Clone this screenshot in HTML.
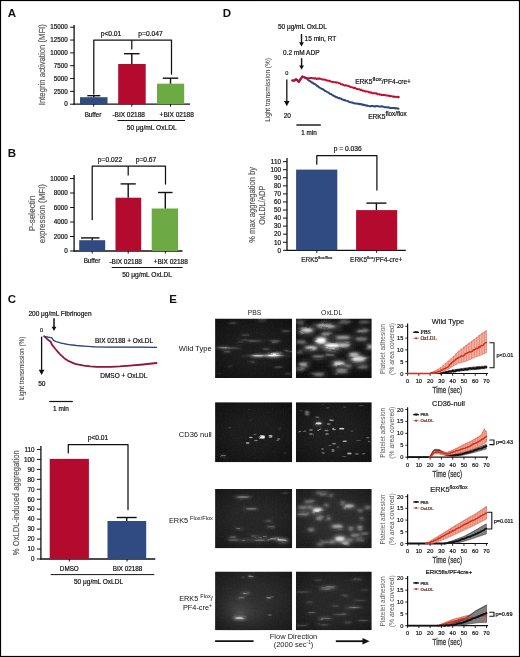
<!DOCTYPE html>
<html><head><meta charset="utf-8"><title>Figure</title>
<style>
html,body{margin:0;padding:0;background:#fff;}
body{width:520px;height:657px;overflow:hidden;font-family:"Liberation Sans", sans-serif;}
svg{display:block;font-family:"Liberation Sans", sans-serif;will-change:transform;opacity:0.999;}
text{stroke-width:0.2px;}
</style></head><body>
<svg width="520" height="657" viewBox="0 0 520 657">
<rect x="0" y="0" width="520" height="657" fill="#fff"/>
<g transform="translate(0 0.5)">
<text x="12.00" y="16.44" font-size="11.5" text-anchor="middle" fill="#111" font-weight="bold" >A</text>
<line x1="74.10" y1="24.50" x2="74.10" y2="104.20" stroke="#111" stroke-width="1.3" />
<line x1="73.60" y1="103.70" x2="190.00" y2="103.70" stroke="#111" stroke-width="1.3" />
<line x1="70.10" y1="103.70" x2="74.10" y2="103.70" stroke="#111" stroke-width="1" />
<text x="67.80" y="105.97" font-size="6.3" text-anchor="end" fill="#111" stroke="#111" >0</text>
<line x1="70.10" y1="90.87" x2="74.10" y2="90.87" stroke="#111" stroke-width="1" />
<text x="67.80" y="93.14" font-size="6.3" text-anchor="end" fill="#111" stroke="#111" >2500</text>
<line x1="70.10" y1="78.04" x2="74.10" y2="78.04" stroke="#111" stroke-width="1" />
<text x="67.80" y="80.31" font-size="6.3" text-anchor="end" fill="#111" stroke="#111" >5000</text>
<line x1="70.10" y1="65.21" x2="74.10" y2="65.21" stroke="#111" stroke-width="1" />
<text x="67.80" y="67.48" font-size="6.3" text-anchor="end" fill="#111" stroke="#111" >7500</text>
<line x1="70.10" y1="52.38" x2="74.10" y2="52.38" stroke="#111" stroke-width="1" />
<text x="67.80" y="54.65" font-size="6.3" text-anchor="end" fill="#111" stroke="#111" >10000</text>
<line x1="70.10" y1="39.55" x2="74.10" y2="39.55" stroke="#111" stroke-width="1" />
<text x="67.80" y="41.82" font-size="6.3" text-anchor="end" fill="#111" stroke="#111" >12500</text>
<line x1="70.10" y1="26.72" x2="74.10" y2="26.72" stroke="#111" stroke-width="1" />
<text x="67.80" y="28.99" font-size="6.3" text-anchor="end" fill="#111" stroke="#111" >15000</text>
<text x="0" y="3.24" font-size="9" text-anchor="middle" fill="#5c5c5c" stroke="#5c5c5c" textLength="81.00" lengthAdjust="spacingAndGlyphs" transform="translate(41.80 64.20) rotate(-90)">Integrin activation (MFI)</text>
<rect x="80.00" y="96.70" width="27.50" height="7.00" fill="#2f4b82"/>
<line x1="93.80" y1="95.20" x2="93.80" y2="96.70" stroke="#111" stroke-width="1.4" />
<line x1="87.30" y1="95.20" x2="100.30" y2="95.20" stroke="#111" stroke-width="1.4" />
<rect x="118.20" y="63.50" width="27.50" height="40.20" fill="#b40a2e"/>
<line x1="131.80" y1="53.20" x2="131.80" y2="63.50" stroke="#111" stroke-width="1.4" />
<line x1="124.05" y1="53.20" x2="139.55" y2="53.20" stroke="#111" stroke-width="1.4" />
<rect x="157.00" y="83.20" width="27.20" height="20.50" fill="#6cab43"/>
<line x1="170.50" y1="77.70" x2="170.50" y2="83.20" stroke="#111" stroke-width="1.4" />
<line x1="162.75" y1="77.70" x2="178.25" y2="77.70" stroke="#111" stroke-width="1.4" />
<line x1="93.70" y1="103.70" x2="93.70" y2="106.20" stroke="#111" stroke-width="1" />
<line x1="131.80" y1="103.70" x2="131.80" y2="106.20" stroke="#111" stroke-width="1" />
<line x1="170.50" y1="103.70" x2="170.50" y2="106.20" stroke="#111" stroke-width="1" />
<path d="M93.80,93.50 L93.80,39.50 L171.50,39.50 L171.50,73.70" stroke="#111" stroke-width="1.25" fill="none" stroke-linejoin="round" stroke-linecap="round" />
<line x1="131.80" y1="39.50" x2="131.80" y2="48.90" stroke="#111" stroke-width="1.25" />
<text x="111.00" y="35.61" font-size="6.7" text-anchor="middle" fill="#111" stroke="#111" >p&lt;0.01</text>
<text x="150.50" y="35.61" font-size="6.7" text-anchor="middle" fill="#111" stroke="#111" >p=0.047</text>
<text x="93.00" y="116.27" font-size="6.3" text-anchor="middle" fill="#111" stroke="#111" >Buffer</text>
<text x="128.70" y="116.34" font-size="6.5" text-anchor="middle" fill="#111" stroke="#111" >-BIX 02188</text>
<text x="176.70" y="116.34" font-size="6.5" text-anchor="middle" fill="#111" stroke="#111" >+BIX 02188</text>
<line x1="117.50" y1="120.00" x2="185.00" y2="120.00" stroke="#111" stroke-width="1" />
<text x="151.70" y="129.38" font-size="6.6" text-anchor="middle" fill="#111" stroke="#111" >50 μg/mL OxLDL</text>
</g>
<g transform="translate(0 0.5)">
<text x="12.00" y="156.14" font-size="11.5" text-anchor="middle" fill="#111" font-weight="bold" >B</text>
<line x1="74.10" y1="174.50" x2="74.10" y2="251.00" stroke="#111" stroke-width="1.3" />
<line x1="73.60" y1="250.50" x2="182.50" y2="250.50" stroke="#111" stroke-width="1.3" />
<line x1="70.10" y1="250.50" x2="74.10" y2="250.50" stroke="#111" stroke-width="1" />
<text x="67.80" y="252.77" font-size="6.3" text-anchor="end" fill="#111" stroke="#111" >0</text>
<line x1="70.10" y1="236.00" x2="74.10" y2="236.00" stroke="#111" stroke-width="1" />
<text x="67.80" y="238.27" font-size="6.3" text-anchor="end" fill="#111" stroke="#111" >2000</text>
<line x1="70.10" y1="221.50" x2="74.10" y2="221.50" stroke="#111" stroke-width="1" />
<text x="67.80" y="223.77" font-size="6.3" text-anchor="end" fill="#111" stroke="#111" >4000</text>
<line x1="70.10" y1="207.00" x2="74.10" y2="207.00" stroke="#111" stroke-width="1" />
<text x="67.80" y="209.27" font-size="6.3" text-anchor="end" fill="#111" stroke="#111" >6000</text>
<line x1="70.10" y1="192.50" x2="74.10" y2="192.50" stroke="#111" stroke-width="1" />
<text x="67.80" y="194.77" font-size="6.3" text-anchor="end" fill="#111" stroke="#111" >8000</text>
<line x1="70.10" y1="178.00" x2="74.10" y2="178.00" stroke="#111" stroke-width="1" />
<text x="67.80" y="180.27" font-size="6.3" text-anchor="end" fill="#111" stroke="#111" >10000</text>
<text x="0" y="3.24" font-size="9" text-anchor="middle" fill="#5c5c5c" stroke="#5c5c5c" textLength="35.50" lengthAdjust="spacingAndGlyphs" transform="translate(31.80 213.00) rotate(-90)">P-selectin</text>
<text x="0" y="3.24" font-size="9" text-anchor="middle" fill="#5c5c5c" stroke="#5c5c5c" textLength="59.00" lengthAdjust="spacingAndGlyphs" transform="translate(41.80 213.20) rotate(-90)">expression (MFI)</text>
<rect x="79.20" y="239.70" width="26.00" height="10.80" fill="#2f4b82"/>
<line x1="92.20" y1="237.40" x2="92.20" y2="239.70" stroke="#111" stroke-width="1.4" />
<line x1="81.00" y1="237.40" x2="99.50" y2="237.40" stroke="#111" stroke-width="1.4" />
<rect x="115.50" y="197.20" width="25.70" height="53.30" fill="#b40a2e"/>
<line x1="128.20" y1="183.40" x2="128.20" y2="197.20" stroke="#111" stroke-width="1.4" />
<line x1="120.60" y1="183.40" x2="135.80" y2="183.40" stroke="#111" stroke-width="1.4" />
<rect x="151.70" y="208.00" width="26.30" height="42.50" fill="#6cab43"/>
<line x1="165.30" y1="192.00" x2="165.30" y2="208.00" stroke="#111" stroke-width="1.4" />
<line x1="158.05" y1="192.00" x2="172.55" y2="192.00" stroke="#111" stroke-width="1.4" />
<line x1="92.20" y1="250.50" x2="92.20" y2="253.00" stroke="#111" stroke-width="1" />
<line x1="128.20" y1="250.50" x2="128.20" y2="253.00" stroke="#111" stroke-width="1" />
<line x1="165.30" y1="250.50" x2="165.30" y2="253.00" stroke="#111" stroke-width="1" />
<path d="M92.20,219.20 L92.20,165.70 L165.50,165.70 L165.50,183.50" stroke="#111" stroke-width="1.25" fill="none" stroke-linejoin="round" stroke-linecap="round" />
<line x1="128.20" y1="165.70" x2="128.20" y2="175.00" stroke="#111" stroke-width="1.25" />
<text x="110.00" y="161.91" font-size="6.7" text-anchor="middle" fill="#111" stroke="#111" >p=0.022</text>
<text x="146.00" y="161.91" font-size="6.7" text-anchor="middle" fill="#111" stroke="#111" >p=0.67</text>
<text x="92.00" y="262.97" font-size="6.3" text-anchor="middle" fill="#111" stroke="#111" >Buffer</text>
<text x="125.70" y="263.04" font-size="6.5" text-anchor="middle" fill="#111" stroke="#111" >-BIX 02188</text>
<text x="170.70" y="263.04" font-size="6.5" text-anchor="middle" fill="#111" stroke="#111" >+BIX 02188</text>
<line x1="111.70" y1="267.00" x2="182.50" y2="267.00" stroke="#111" stroke-width="1" />
<text x="147.00" y="276.08" font-size="6.6" text-anchor="middle" fill="#111" stroke="#111" >50 μg/mL OxLDL</text>
</g>
<text x="11.80" y="302.94" font-size="11.5" text-anchor="middle" fill="#111" font-weight="bold" >C</text>
<text x="60.00" y="315.54" font-size="6.5" text-anchor="middle" fill="#111" stroke="#111" >200 μg/mL Fibrinogen</text>
<line x1="54.00" y1="318.20" x2="54.00" y2="327.30" stroke="#111" stroke-width="1.5" />
<path d="M51.60,326.80 L56.40,326.80 L54.00,331.00 Z" fill="#111"/>
<text x="41.50" y="332.14" font-size="5.4" text-anchor="middle" fill="#111" stroke="#111" >0</text>
<line x1="41.60" y1="336.60" x2="41.60" y2="370.30" stroke="#111" stroke-width="1.3" />
<path d="M38.80,369.80 L44.40,369.80 L41.60,375.00 Z" fill="#111"/>
<text x="41.80" y="386.18" font-size="6.6" text-anchor="middle" fill="#111" stroke="#111" >50</text>
<text x="0" y="2.27" font-size="6.3" text-anchor="middle" fill="#2a2a2a" textLength="63.40" lengthAdjust="spacingAndGlyphs" transform="translate(21.30 368.30) rotate(-90)">Light transmission (%)</text>
<line x1="49.20" y1="401.50" x2="72.80" y2="401.50" stroke="#111" stroke-width="1.2" />
<text x="61.00" y="411.34" font-size="6.5" text-anchor="middle" fill="#111" stroke="#111" >1 min</text>
<path d="M44.20,336.30 L47.30,339.20 L50.70,341.80 L51.90,344.60 L55.00,348.50 L59.60,353.80 L64.20,358.20 L68.80,361.20 L75.00,363.80 L83.80,365.60 L90.00,366.40 L97.30,366.90 L110.80,366.80 L120.00,366.40 L129.60,365.70 L143.00,364.50 L156.50,363.00" stroke="#c2102f" stroke-width="1.8" fill="none" stroke-linejoin="round" stroke-linecap="round" />
<path d="M44.20,336.30 L47.30,339.20 L50.70,341.80 L51.90,344.60 L55.00,348.50 L59.60,353.80 L64.20,358.20 L68.80,361.20 L75.00,363.80 L83.80,365.60 L90.00,366.40 L97.30,366.90 L110.80,366.80 L120.00,366.40 L129.60,365.70 L143.00,364.50 L156.50,363.00" stroke="#3a2a55" stroke-width="0.6" fill="none" stroke-linejoin="round" stroke-linecap="round" />
<path d="M44.20,336.30 L48.10,337.20 L51.90,337.80 L53.50,340.30 L55.80,341.50 L61.20,343.10 L68.80,344.60 L76.50,345.50 L84.20,346.20 L95.00,346.80 L110.00,347.10 L124.20,347.10 L140.00,347.20 L156.50,347.40" stroke="#3a5a95" stroke-width="1.3" fill="none" stroke-linejoin="round" stroke-linecap="round" />
<path d="M44.20,336.30 L48.10,337.20 L51.90,337.80 L53.50,340.30 L55.80,341.50 L61.20,343.10 L68.80,344.60 L76.50,345.50 L84.20,346.20 L95.00,346.80 L110.00,347.10 L124.20,347.10 L140.00,347.20 L156.50,347.40" stroke="#1c2d55" stroke-width="0.5" fill="none" stroke-linejoin="round" stroke-linecap="round" />
<text x="124.00" y="343.14" font-size="6.5" text-anchor="middle" fill="#111" stroke="#111" >BIX 02188 + OxLDL</text>
<text x="123.80" y="377.94" font-size="6.5" text-anchor="middle" fill="#111" stroke="#111" >DMSO + OxLDL</text>
<line x1="40.90" y1="446.00" x2="40.90" y2="559.50" stroke="#111" stroke-width="1.3" />
<line x1="40.40" y1="559.00" x2="155.30" y2="559.00" stroke="#111" stroke-width="1.3" />
<line x1="36.90" y1="559.00" x2="40.90" y2="559.00" stroke="#111" stroke-width="1" />
<text x="34.60" y="561.27" font-size="6.3" text-anchor="end" fill="#111" stroke="#111" >0</text>
<line x1="36.90" y1="549.04" x2="40.90" y2="549.04" stroke="#111" stroke-width="1" />
<text x="34.60" y="551.31" font-size="6.3" text-anchor="end" fill="#111" stroke="#111" >10</text>
<line x1="36.90" y1="539.08" x2="40.90" y2="539.08" stroke="#111" stroke-width="1" />
<text x="34.60" y="541.35" font-size="6.3" text-anchor="end" fill="#111" stroke="#111" >20</text>
<line x1="36.90" y1="529.12" x2="40.90" y2="529.12" stroke="#111" stroke-width="1" />
<text x="34.60" y="531.39" font-size="6.3" text-anchor="end" fill="#111" stroke="#111" >30</text>
<line x1="36.90" y1="519.16" x2="40.90" y2="519.16" stroke="#111" stroke-width="1" />
<text x="34.60" y="521.43" font-size="6.3" text-anchor="end" fill="#111" stroke="#111" >40</text>
<line x1="36.90" y1="509.20" x2="40.90" y2="509.20" stroke="#111" stroke-width="1" />
<text x="34.60" y="511.47" font-size="6.3" text-anchor="end" fill="#111" stroke="#111" >50</text>
<line x1="36.90" y1="499.24" x2="40.90" y2="499.24" stroke="#111" stroke-width="1" />
<text x="34.60" y="501.51" font-size="6.3" text-anchor="end" fill="#111" stroke="#111" >60</text>
<line x1="36.90" y1="489.28" x2="40.90" y2="489.28" stroke="#111" stroke-width="1" />
<text x="34.60" y="491.55" font-size="6.3" text-anchor="end" fill="#111" stroke="#111" >70</text>
<line x1="36.90" y1="479.32" x2="40.90" y2="479.32" stroke="#111" stroke-width="1" />
<text x="34.60" y="481.59" font-size="6.3" text-anchor="end" fill="#111" stroke="#111" >80</text>
<line x1="36.90" y1="469.36" x2="40.90" y2="469.36" stroke="#111" stroke-width="1" />
<text x="34.60" y="471.63" font-size="6.3" text-anchor="end" fill="#111" stroke="#111" >90</text>
<line x1="36.90" y1="459.40" x2="40.90" y2="459.40" stroke="#111" stroke-width="1" />
<text x="34.60" y="461.67" font-size="6.3" text-anchor="end" fill="#111" stroke="#111" >100</text>
<line x1="36.90" y1="449.44" x2="40.90" y2="449.44" stroke="#111" stroke-width="1" />
<text x="34.60" y="451.71" font-size="6.3" text-anchor="end" fill="#111" stroke="#111" >110</text>
<text x="0" y="3.24" font-size="9" text-anchor="middle" fill="#5c5c5c" stroke="#5c5c5c" textLength="105.00" lengthAdjust="spacingAndGlyphs" transform="translate(16.20 502.80) rotate(-90)">% OxLDL-induced aggregation</text>
<rect x="49.70" y="458.90" width="39.20" height="100.10" fill="#b40a2e"/>
<rect x="107.50" y="521.00" width="38.70" height="38.00" fill="#2f4b82"/>
<line x1="126.70" y1="517.50" x2="126.70" y2="521.00" stroke="#111" stroke-width="1.4" />
<line x1="116.70" y1="517.50" x2="136.70" y2="517.50" stroke="#111" stroke-width="1.4" />
<line x1="69.30" y1="559.00" x2="69.30" y2="561.50" stroke="#111" stroke-width="1" />
<line x1="127.00" y1="559.00" x2="127.00" y2="561.50" stroke="#111" stroke-width="1" />
<path d="M68.30,452.80 L68.30,444.50 L128.00,444.50 L128.00,509.60" stroke="#111" stroke-width="1.25" fill="none" stroke-linejoin="round" stroke-linecap="round" />
<text x="98.00" y="440.11" font-size="6.7" text-anchor="middle" fill="#111" stroke="#111" >p&lt;0.01</text>
<text x="69.30" y="570.97" font-size="6.3" text-anchor="middle" fill="#111" stroke="#111" >DMSO</text>
<text x="127.50" y="570.97" font-size="6.3" text-anchor="middle" fill="#111" stroke="#111" >BIX 02188</text>
<line x1="50.70" y1="574.60" x2="154.30" y2="574.60" stroke="#111" stroke-width="1" />
<text x="98.50" y="584.04" font-size="6.5" text-anchor="middle" fill="#111" stroke="#111" >50 μg/mL OxLDL</text>
<text x="227.00" y="16.94" font-size="11.5" text-anchor="middle" fill="#111" font-weight="bold" >D</text>
<text x="277.90" y="29.04" font-size="6.5" text-anchor="start" fill="#111" stroke="#111" >50 μg/mL OxLDL</text>
<line x1="301.50" y1="34.00" x2="301.50" y2="42.80" stroke="#111" stroke-width="1.4" />
<path d="M299.10,42.30 L303.90,42.30 L301.50,46.50 Z" fill="#111"/>
<text x="304.60" y="41.14" font-size="6.5" text-anchor="start" fill="#111" stroke="#111" >15 min, RT</text>
<text x="283.00" y="54.74" font-size="6.5" text-anchor="start" fill="#111" stroke="#111" >0.2 mM ADP</text>
<line x1="301.60" y1="58.20" x2="301.60" y2="66.00" stroke="#111" stroke-width="1.4" />
<path d="M299.20,65.50 L304.00,65.50 L301.60,69.70 Z" fill="#111"/>
<text x="286.80" y="75.32" font-size="5.6" text-anchor="middle" fill="#111" stroke="#111" >0</text>
<line x1="286.80" y1="79.50" x2="286.80" y2="101.40" stroke="#111" stroke-width="1.3" />
<path d="M284.00,100.90 L289.60,100.90 L286.80,106.30 Z" fill="#111"/>
<text x="287.30" y="118.34" font-size="6.5" text-anchor="middle" fill="#111" stroke="#111" >20</text>
<text x="0" y="2.27" font-size="6.3" text-anchor="middle" fill="#2a2a2a" textLength="63.70" lengthAdjust="spacingAndGlyphs" transform="translate(268.20 90.00) rotate(-90)">Light transmission (%)</text>
<line x1="296.40" y1="125.00" x2="320.80" y2="125.00" stroke="#111" stroke-width="1.4" />
<text x="309.00" y="134.67" font-size="6.3" text-anchor="middle" fill="#111" stroke="#111" >1 min</text>
<path d="M292.30,80.48 L293.40,80.46 L294.50,80.91 L295.30,79.75 L296.10,79.33 L297.40,80.51 L298.80,81.99 L299.65,80.76 L300.50,78.88 L301.40,77.85 L302.30,76.30 L303.40,76.81 L304.50,77.55 L305.45,78.33 L306.40,78.34 L307.33,79.04 L308.27,79.96 L309.20,80.81 L310.02,81.11 L310.84,81.53 L311.66,82.49 L312.48,82.40 L313.30,83.52 L314.12,83.67 L314.94,84.12 L315.76,84.66 L316.58,85.35 L317.40,86.25 L318.22,86.36 L319.04,87.20 L319.86,87.79 L320.68,88.16 L321.50,88.83 L322.31,88.95 L323.12,89.41 L323.93,89.97 L324.74,90.76 L325.55,91.04 L326.36,91.42 L327.17,92.07 L327.98,92.43 L328.79,92.78 L329.61,93.59 L330.42,93.98 L331.23,94.12 L332.04,94.80 L332.85,95.23 L333.66,95.93 L334.47,96.29 L335.28,96.44 L336.09,97.38 L336.90,97.23 L337.71,97.72 L338.52,98.23 L339.33,98.08 L340.14,98.59 L340.95,98.55 L341.76,99.26 L342.57,99.60 L343.38,99.74 L344.19,100.23 L345.01,100.11 L345.82,100.65 L346.63,100.85 L347.44,101.11 L348.25,101.30 L349.06,101.84 L349.87,102.19 L350.68,102.13 L351.49,102.54 L352.30,102.39 L353.11,103.00 L353.92,103.13 L354.73,103.53 L355.54,103.58 L356.35,103.37 L357.16,103.60 L357.97,103.96 L358.78,103.67 L359.59,104.14 L360.41,104.10 L361.22,104.23 L362.03,104.35 L362.84,105.01 L363.65,104.72 L364.46,104.97 L365.27,105.23 L366.08,105.73 L366.89,105.34 L367.70,105.76 L368.51,105.88 L369.31,106.16 L370.12,106.17 L370.92,106.24 L371.73,105.88 L372.53,106.02 L373.34,106.03 L374.14,106.45 L374.95,106.55 L375.75,106.03 L376.56,106.09 L377.36,106.18 L378.17,106.23 L378.97,106.45 L379.78,106.57 L380.58,106.39 L381.39,106.26 L382.19,106.60 L383.00,106.61 L383.82,106.86 L384.63,107.24 L385.45,107.16 L386.26,107.15 L387.08,107.33 L387.89,107.49 L388.71,107.16 L389.53,107.86 L390.34,107.89 L391.16,108.07 L391.97,108.12 L392.79,107.95 L393.61,108.07 L394.42,107.97 L395.24,108.45 L396.05,108.16 L396.87,108.28 L397.68,108.49 L398.50,108.80" stroke="#2c4782" stroke-width="2.0" fill="none" stroke-linejoin="round" stroke-linecap="round" />
<path d="M292.30,80.56 L293.40,80.49 L294.50,80.09 L295.30,79.60 L296.10,79.26 L297.40,79.92 L298.80,81.90 L299.65,80.42 L300.50,79.76 L301.40,78.28 L302.30,76.65 L303.40,76.98 L304.50,77.29 L305.45,77.65 L306.40,77.84 L307.33,78.34 L308.27,78.45 L309.20,78.08 L310.02,78.15 L310.84,77.93 L311.66,78.00 L312.48,78.23 L313.30,78.24 L314.12,78.69 L314.94,78.28 L315.76,78.25 L316.58,78.96 L317.40,78.72 L318.22,78.51 L319.04,78.85 L319.86,78.55 L320.68,78.96 L321.50,79.33 L322.31,79.45 L323.12,79.53 L323.93,79.42 L324.74,79.69 L325.55,79.74 L326.36,80.36 L327.17,80.39 L327.98,80.75 L328.79,80.63 L329.61,80.75 L330.42,81.36 L331.23,81.68 L332.04,81.78 L332.85,81.94 L333.66,82.14 L334.47,82.28 L335.28,82.12 L336.09,82.52 L336.90,82.60 L337.71,82.61 L338.52,82.85 L339.33,83.27 L340.14,83.50 L340.95,84.05 L341.76,84.47 L342.57,84.36 L343.38,84.94 L344.19,85.22 L345.01,85.44 L345.82,85.27 L346.63,85.41 L347.44,85.66 L348.25,85.88 L349.06,86.12 L349.87,86.66 L350.68,87.10 L351.49,87.30 L352.30,87.29 L353.11,87.65 L353.92,87.99 L354.73,87.74 L355.54,88.38 L356.35,88.80 L357.16,88.95 L357.97,89.17 L358.78,89.22 L359.59,89.25 L360.41,89.92 L361.22,89.85 L362.03,90.42 L362.84,90.78 L363.65,90.62 L364.46,90.86 L365.27,91.49 L366.08,91.57 L366.89,91.43 L367.70,91.64 L368.51,91.82 L369.31,92.51 L370.12,92.60 L370.92,92.30 L371.73,92.94 L372.53,93.22 L373.34,93.15 L374.14,93.10 L374.95,93.40 L375.75,93.27 L376.56,93.35 L377.36,94.19 L378.17,94.13 L378.97,94.20 L379.78,94.65 L380.58,94.46 L381.39,94.93 L382.19,95.07 L383.00,94.80 L383.82,94.94 L384.63,95.09 L385.45,95.17 L386.26,95.52 L387.08,95.41 L387.89,95.64 L388.71,95.55 L389.53,96.21 L390.34,95.94 L391.16,96.13 L391.97,96.33 L392.79,96.67 L393.61,96.45 L394.42,96.91 L395.24,96.74 L396.05,96.87 L396.87,96.98 L397.68,96.75 L398.50,97.20" stroke="#c0102f" stroke-width="2.0" fill="none" stroke-linejoin="round" stroke-linecap="round" />
<circle cx="398.5" cy="97.2" r="1.1" fill="#c0102f"/>
<text x="355.2" y="84.3" font-size="6.6" fill="#111" stroke="#111">ERK5<tspan dy="-3" font-size="6">flox</tspan><tspan dy="3" font-size="6.6">/PF4-cre+</tspan></text>
<text x="368.2" y="119.2" font-size="6.6" fill="#111" stroke="#111">ERK5<tspan dy="-3.1" font-size="6.3">flox/flox</tspan></text>
<g transform="translate(0 0.6)">
<line x1="287.00" y1="157.30" x2="287.00" y2="250.20" stroke="#111" stroke-width="1.3" />
<line x1="286.50" y1="249.70" x2="405.80" y2="249.70" stroke="#111" stroke-width="1.3" />
<line x1="283.00" y1="249.70" x2="287.00" y2="249.70" stroke="#111" stroke-width="1" />
<text x="280.90" y="251.97" font-size="6.3" text-anchor="end" fill="#111" stroke="#111" >0</text>
<line x1="283.00" y1="241.64" x2="287.00" y2="241.64" stroke="#111" stroke-width="1" />
<text x="280.90" y="243.91" font-size="6.3" text-anchor="end" fill="#111" stroke="#111" >10</text>
<line x1="283.00" y1="233.58" x2="287.00" y2="233.58" stroke="#111" stroke-width="1" />
<text x="280.90" y="235.85" font-size="6.3" text-anchor="end" fill="#111" stroke="#111" >20</text>
<line x1="283.00" y1="225.52" x2="287.00" y2="225.52" stroke="#111" stroke-width="1" />
<text x="280.90" y="227.79" font-size="6.3" text-anchor="end" fill="#111" stroke="#111" >30</text>
<line x1="283.00" y1="217.46" x2="287.00" y2="217.46" stroke="#111" stroke-width="1" />
<text x="280.90" y="219.73" font-size="6.3" text-anchor="end" fill="#111" stroke="#111" >40</text>
<line x1="283.00" y1="209.40" x2="287.00" y2="209.40" stroke="#111" stroke-width="1" />
<text x="280.90" y="211.67" font-size="6.3" text-anchor="end" fill="#111" stroke="#111" >50</text>
<line x1="283.00" y1="201.34" x2="287.00" y2="201.34" stroke="#111" stroke-width="1" />
<text x="280.90" y="203.61" font-size="6.3" text-anchor="end" fill="#111" stroke="#111" >60</text>
<line x1="283.00" y1="193.28" x2="287.00" y2="193.28" stroke="#111" stroke-width="1" />
<text x="280.90" y="195.55" font-size="6.3" text-anchor="end" fill="#111" stroke="#111" >70</text>
<line x1="283.00" y1="185.22" x2="287.00" y2="185.22" stroke="#111" stroke-width="1" />
<text x="280.90" y="187.49" font-size="6.3" text-anchor="end" fill="#111" stroke="#111" >80</text>
<line x1="283.00" y1="177.16" x2="287.00" y2="177.16" stroke="#111" stroke-width="1" />
<text x="280.90" y="179.43" font-size="6.3" text-anchor="end" fill="#111" stroke="#111" >90</text>
<line x1="283.00" y1="169.10" x2="287.00" y2="169.10" stroke="#111" stroke-width="1" />
<text x="280.90" y="171.37" font-size="6.3" text-anchor="end" fill="#111" stroke="#111" >100</text>
<line x1="283.00" y1="161.04" x2="287.00" y2="161.04" stroke="#111" stroke-width="1" />
<text x="280.90" y="163.31" font-size="6.3" text-anchor="end" fill="#111" stroke="#111" >110</text>
<text x="0" y="3.24" font-size="9" text-anchor="middle" fill="#5c5c5c" stroke="#5c5c5c" textLength="76.00" lengthAdjust="spacingAndGlyphs" transform="translate(251.90 204.20) rotate(-90)">% max aggregation by</text>
<text x="0" y="3.24" font-size="9" text-anchor="middle" fill="#5c5c5c" stroke="#5c5c5c" textLength="39.00" lengthAdjust="spacingAndGlyphs" transform="translate(261.50 204.60) rotate(-90)">OxLDL/ADP</text>
<rect x="296.10" y="169.00" width="41.20" height="80.70" fill="#2f4b82"/>
<rect x="356.10" y="209.50" width="41.10" height="40.20" fill="#b40a2e"/>
<line x1="376.40" y1="202.50" x2="376.40" y2="209.50" stroke="#111" stroke-width="1.4" />
<line x1="366.40" y1="202.50" x2="386.40" y2="202.50" stroke="#111" stroke-width="1.4" />
<line x1="316.80" y1="249.70" x2="316.80" y2="252.20" stroke="#111" stroke-width="1" />
<line x1="376.70" y1="249.70" x2="376.70" y2="252.20" stroke="#111" stroke-width="1" />
<path d="M316.80,163.60 L316.80,155.00 L376.90,155.00 L376.90,189.50" stroke="#111" stroke-width="1.25" fill="none" stroke-linejoin="round" stroke-linecap="round" />
<text x="347.70" y="150.71" font-size="6.7" text-anchor="middle" fill="#111" stroke="#111" >p = 0.036</text>
<text x="316.8" y="261.2" font-size="6.5" text-anchor="middle" fill="#222" stroke="#222">ERK5<tspan dy="-2.4" font-size="4.2">flox/flox</tspan></text>
<text x="376.2" y="261.2" font-size="6.5" text-anchor="middle" fill="#222" stroke="#222">ERK5<tspan dy="-2.4" font-size="4.2">flox</tspan><tspan dy="2.4" font-size="6.5">/PF4-cre+</tspan></text>
</g>
<text x="173.00" y="302.94" font-size="11.5" text-anchor="middle" fill="#111" font-weight="bold" >E</text>
<text x="254.60" y="315.15" font-size="6.8" text-anchor="middle" fill="#222" >PBS</text>
<text x="331.70" y="315.15" font-size="6.8" text-anchor="middle" fill="#222" >OxLDL</text>
<text x="178.80" y="350.70" font-size="7.5" text-anchor="start" fill="#111" >Wild Type</text>
<text x="178.80" y="436.70" font-size="7.5" text-anchor="start" fill="#111" >CD36 null</text>
<text x="169" y="523.4" font-size="7.3" fill="#111">ERK5 <tspan dy="-3" font-size="5.6">Flox/Flox</tspan></text>
<text x="179.2" y="600.8" font-size="7.3" fill="#111">ERK5 <tspan dy="-3" font-size="5.6">Flox</tspan><tspan dy="3" font-size="7.3">/</tspan></text>
<text x="183" y="609.6" font-size="7.3" fill="#111">PF4-cre<tspan dy="-2.5" font-size="5">+</tspan></text>
<defs><filter id="b1" x="-60%" y="-100%" width="220%" height="300%"><feGaussianBlur stdDeviation="0.7"/></filter><filter id="b2" x="-60%" y="-100%" width="220%" height="300%"><feGaussianBlur stdDeviation="1.1"/></filter><filter id="b3" x="-60%" y="-100%" width="220%" height="300%"><feGaussianBlur stdDeviation="2.2"/></filter><filter id="nz" x="0" y="0" width="100%" height="100%"><feTurbulence type="fractalNoise" baseFrequency="0.9 0.5" numOctaves="2" seed="3" result="t"/><feColorMatrix type="matrix" values="0 0 0 0 1  0 0 0 0 1  0 0 0 0 1  0.5 0.5 0 0 -0.35"/></filter><filter id="rough" x="0" y="0" width="100%" height="100%"><feTurbulence type="fractalNoise" baseFrequency="0.06 0.18" numOctaves="1" seed="5" result="t"/><feDisplacementMap in="SourceGraphic" in2="t" scale="3.5" xChannelSelector="R" yChannelSelector="G"/><feGaussianBlur stdDeviation="0.4"/></filter><radialGradient id="vig" cx="0.5" cy="0.5" r="0.75"><stop offset="0.35" stop-color="#000" stop-opacity="0"/><stop offset="1" stop-color="#000" stop-opacity="0.5"/></radialGradient><radialGradient id="glow"><stop offset="0" stop-color="#474747"/><stop offset="0.5" stop-color="#383838" stop-opacity="0.5"/><stop offset="1" stop-color="#2a2a2a" stop-opacity="0"/></radialGradient></defs>
<clipPath id="c1"><rect x="215.1" y="318.6" width="77.10" height="59.40"/></clipPath>
<g clip-path="url(#c1)">
<rect x="215.10" y="318.60" width="77.10" height="59.40" fill="#1a1a1a"/>
<g filter="url(#rough)"><rect x="205.1" y="308.6" width="97.10" height="79.40" fill="none"/>
<ellipse cx="268.0" cy="355.6" rx="25.5" ry="1.1" fill="#fff" opacity="0.08" filter="url(#b3)"/>
<ellipse cx="268.0" cy="355.6" rx="28.9" ry="1.3" fill="#fff" opacity="0.12" filter="url(#b2)"/>
<ellipse cx="268.0" cy="355.6" rx="18.7" ry="0.6" fill="#fff" opacity="0.27" filter="url(#b1)"/>
<ellipse cx="274.0" cy="355.3" rx="8.2" ry="1.8" fill="#fff" opacity="0.28" filter="url(#b3)"/>
<ellipse cx="274.0" cy="355.3" rx="9.3" ry="2.0" fill="#fff" opacity="0.40" filter="url(#b2)"/>
<ellipse cx="274.0" cy="355.3" rx="6.1" ry="0.9" fill="#fff" opacity="0.90" filter="url(#b1)"/>
<ellipse cx="258.0" cy="355.8" rx="7.5" ry="1.4" fill="#fff" opacity="0.17" filter="url(#b3)"/>
<ellipse cx="258.0" cy="355.8" rx="8.5" ry="1.6" fill="#fff" opacity="0.24" filter="url(#b2)"/>
<ellipse cx="258.0" cy="355.8" rx="5.5" ry="0.8" fill="#fff" opacity="0.54" filter="url(#b1)"/>
<ellipse cx="252.0" cy="341.0" rx="13.5" ry="0.8" fill="#fff" opacity="0.08" filter="url(#b3)"/>
<ellipse cx="252.0" cy="341.0" rx="15.3" ry="0.9" fill="#fff" opacity="0.12" filter="url(#b2)"/>
<ellipse cx="252.0" cy="341.0" rx="9.9" ry="0.5" fill="#fff" opacity="0.27" filter="url(#b1)"/>
<ellipse cx="230.0" cy="348.0" rx="12.0" ry="0.8" fill="#fff" opacity="0.08" filter="url(#b3)"/>
<ellipse cx="230.0" cy="348.0" rx="13.6" ry="0.9" fill="#fff" opacity="0.12" filter="url(#b2)"/>
<ellipse cx="230.0" cy="348.0" rx="8.8" ry="0.5" fill="#fff" opacity="0.27" filter="url(#b1)"/>
<ellipse cx="223.0" cy="347.6" rx="6.8" ry="1.1" fill="#fff" opacity="0.11" filter="url(#b3)"/>
<ellipse cx="223.0" cy="347.6" rx="7.6" ry="1.3" fill="#fff" opacity="0.16" filter="url(#b2)"/>
<ellipse cx="223.0" cy="347.6" rx="5.0" ry="0.6" fill="#fff" opacity="0.36" filter="url(#b1)"/>
<ellipse cx="226.0" cy="351.8" rx="4.5" ry="1.0" fill="#fff" opacity="0.08" filter="url(#b3)"/>
<ellipse cx="226.0" cy="351.8" rx="5.1" ry="1.1" fill="#fff" opacity="0.12" filter="url(#b2)"/>
<ellipse cx="226.0" cy="351.8" rx="3.3" ry="0.5" fill="#fff" opacity="0.27" filter="url(#b1)"/>
<ellipse cx="275.4" cy="341.0" rx="6.0" ry="1.0" fill="#fff" opacity="0.10" filter="url(#b3)"/>
<ellipse cx="275.4" cy="341.0" rx="6.8" ry="1.1" fill="#fff" opacity="0.14" filter="url(#b2)"/>
<ellipse cx="275.4" cy="341.0" rx="4.4" ry="0.5" fill="#fff" opacity="0.32" filter="url(#b1)"/>
<ellipse cx="286.8" cy="331.0" rx="5.2" ry="1.0" fill="#fff" opacity="0.10" filter="url(#b3)"/>
<ellipse cx="286.8" cy="331.0" rx="6.0" ry="1.1" fill="#fff" opacity="0.14" filter="url(#b2)"/>
<ellipse cx="286.8" cy="331.0" rx="3.9" ry="0.5" fill="#fff" opacity="0.32" filter="url(#b1)"/>
<ellipse cx="288.4" cy="350.8" rx="5.2" ry="1.0" fill="#fff" opacity="0.11" filter="url(#b3)"/>
<ellipse cx="288.4" cy="350.8" rx="6.0" ry="1.1" fill="#fff" opacity="0.16" filter="url(#b2)"/>
<ellipse cx="288.4" cy="350.8" rx="3.9" ry="0.5" fill="#fff" opacity="0.36" filter="url(#b1)"/>
<ellipse cx="233.0" cy="323.0" rx="5.2" ry="0.8" fill="#fff" opacity="0.08" filter="url(#b3)"/>
<ellipse cx="233.0" cy="323.0" rx="6.0" ry="0.9" fill="#fff" opacity="0.12" filter="url(#b2)"/>
<ellipse cx="233.0" cy="323.0" rx="3.9" ry="0.5" fill="#fff" opacity="0.27" filter="url(#b1)"/>
<ellipse cx="262.0" cy="320.8" rx="5.2" ry="0.8" fill="#fff" opacity="0.08" filter="url(#b3)"/>
<ellipse cx="262.0" cy="320.8" rx="6.0" ry="0.9" fill="#fff" opacity="0.11" filter="url(#b2)"/>
<ellipse cx="262.0" cy="320.8" rx="3.9" ry="0.5" fill="#fff" opacity="0.25" filter="url(#b1)"/>
<ellipse cx="278.6" cy="367.0" rx="5.2" ry="0.8" fill="#fff" opacity="0.08" filter="url(#b3)"/>
<ellipse cx="278.6" cy="367.0" rx="6.0" ry="0.9" fill="#fff" opacity="0.12" filter="url(#b2)"/>
<ellipse cx="278.6" cy="367.0" rx="3.9" ry="0.5" fill="#fff" opacity="0.27" filter="url(#b1)"/>
<ellipse cx="288.4" cy="373.7" rx="4.5" ry="0.8" fill="#fff" opacity="0.08" filter="url(#b3)"/>
<ellipse cx="288.4" cy="373.7" rx="5.1" ry="0.9" fill="#fff" opacity="0.11" filter="url(#b2)"/>
<ellipse cx="288.4" cy="373.7" rx="3.3" ry="0.5" fill="#fff" opacity="0.25" filter="url(#b1)"/>
<ellipse cx="218.0" cy="373.7" rx="3.8" ry="0.8" fill="#fff" opacity="0.08" filter="url(#b3)"/>
<ellipse cx="218.0" cy="373.7" rx="2.8" ry="0.5" fill="#fff" opacity="0.25" filter="url(#b1)"/>
<ellipse cx="245.0" cy="335.0" rx="4.5" ry="0.8" fill="#fff" opacity="0.06" filter="url(#b3)"/>
<ellipse cx="245.0" cy="335.0" rx="5.1" ry="0.9" fill="#fff" opacity="0.08" filter="url(#b2)"/>
<ellipse cx="245.0" cy="335.0" rx="3.3" ry="0.5" fill="#fff" opacity="0.18" filter="url(#b1)"/>
<ellipse cx="252.0" cy="362.0" rx="4.5" ry="0.8" fill="#fff" opacity="0.06" filter="url(#b3)"/>
<ellipse cx="252.0" cy="362.0" rx="5.1" ry="0.9" fill="#fff" opacity="0.08" filter="url(#b2)"/>
<ellipse cx="252.0" cy="362.0" rx="3.3" ry="0.5" fill="#fff" opacity="0.18" filter="url(#b1)"/>
<ellipse cx="230.0" cy="366.0" rx="3.8" ry="0.8" fill="#fff" opacity="0.06" filter="url(#b3)"/>
<ellipse cx="230.0" cy="366.0" rx="2.8" ry="0.5" fill="#fff" opacity="0.18" filter="url(#b1)"/>
<ellipse cx="266.0" cy="349.0" rx="4.5" ry="0.8" fill="#fff" opacity="0.07" filter="url(#b3)"/>
<ellipse cx="266.0" cy="349.0" rx="5.1" ry="0.9" fill="#fff" opacity="0.10" filter="url(#b2)"/>
<ellipse cx="266.0" cy="349.0" rx="3.3" ry="0.5" fill="#fff" opacity="0.23" filter="url(#b1)"/>
<ellipse cx="240.0" cy="343.0" rx="3.8" ry="0.8" fill="#fff" opacity="0.06" filter="url(#b3)"/>
<ellipse cx="240.0" cy="343.0" rx="2.8" ry="0.5" fill="#fff" opacity="0.18" filter="url(#b1)"/>
</g>
<rect x="215.1" y="318.6" width="77.10" height="59.40" fill="url(#vig)"/>
<rect x="215.1" y="318.6" width="77.10" height="59.40" fill="#fff" opacity="0.1" filter="url(#nz)"/>
</g>
<clipPath id="c2"><rect x="295.9" y="318.6" width="75.80" height="59.40"/></clipPath>
<g clip-path="url(#c2)">
<rect x="295.90" y="318.60" width="75.80" height="59.40" fill="#111"/>
<g filter="url(#rough)"><rect x="285.9" y="308.6" width="95.80" height="79.40" fill="none"/>
<ellipse cx="305.5" cy="330.6" rx="8.5" ry="4.4" fill="#fff" opacity="0.50" filter="url(#b3)"/>
<ellipse cx="305.5" cy="330.6" rx="5.3" ry="2.7" fill="#fff" opacity="1.00" filter="url(#b2)"/>
<ellipse cx="326.3" cy="326.0" rx="15.1" ry="3.5" fill="#fff" opacity="0.28" filter="url(#b3)"/>
<ellipse cx="326.3" cy="326.0" rx="9.4" ry="2.1" fill="#fff" opacity="0.66" filter="url(#b2)"/>
<ellipse cx="321.0" cy="340.6" rx="7.6" ry="4.6" fill="#fff" opacity="0.45" filter="url(#b3)"/>
<ellipse cx="321.0" cy="340.6" rx="4.7" ry="2.8" fill="#fff" opacity="1.00" filter="url(#b2)"/>
<ellipse cx="332.5" cy="346.0" rx="11.3" ry="4.2" fill="#fff" opacity="0.48" filter="url(#b3)"/>
<ellipse cx="332.5" cy="346.0" rx="7.1" ry="2.5" fill="#fff" opacity="1.00" filter="url(#b2)"/>
<ellipse cx="344.8" cy="345.2" rx="8.5" ry="3.1" fill="#fff" opacity="0.25" filter="url(#b3)"/>
<ellipse cx="344.8" cy="345.2" rx="5.3" ry="1.9" fill="#fff" opacity="0.60" filter="url(#b2)"/>
<ellipse cx="343.0" cy="337.5" rx="11.3" ry="2.7" fill="#fff" opacity="0.23" filter="url(#b3)"/>
<ellipse cx="343.0" cy="337.5" rx="7.1" ry="1.6" fill="#fff" opacity="0.54" filter="url(#b2)"/>
<ellipse cx="311.0" cy="348.0" rx="9.4" ry="3.0" fill="#fff" opacity="0.33" filter="url(#b3)"/>
<ellipse cx="311.0" cy="348.0" rx="5.9" ry="1.8" fill="#fff" opacity="0.78" filter="url(#b2)"/>
<ellipse cx="358.6" cy="359.0" rx="10.4" ry="4.1" fill="#fff" opacity="0.40" filter="url(#b3)"/>
<ellipse cx="358.6" cy="359.0" rx="6.5" ry="2.4" fill="#fff" opacity="0.96" filter="url(#b2)"/>
<ellipse cx="354.0" cy="354.5" rx="7.6" ry="2.8" fill="#fff" opacity="0.28" filter="url(#b3)"/>
<ellipse cx="354.0" cy="354.5" rx="4.7" ry="1.7" fill="#fff" opacity="0.66" filter="url(#b2)"/>
<ellipse cx="338.6" cy="363.7" rx="9.4" ry="3.5" fill="#fff" opacity="0.33" filter="url(#b3)"/>
<ellipse cx="338.6" cy="363.7" rx="5.9" ry="2.1" fill="#fff" opacity="0.78" filter="url(#b2)"/>
<ellipse cx="304.0" cy="364.5" rx="6.6" ry="3.0" fill="#fff" opacity="0.33" filter="url(#b3)"/>
<ellipse cx="304.0" cy="364.5" rx="4.1" ry="1.8" fill="#fff" opacity="0.78" filter="url(#b2)"/>
<ellipse cx="300.0" cy="369.0" rx="7.6" ry="2.2" fill="#fff" opacity="0.25" filter="url(#b3)"/>
<ellipse cx="300.0" cy="369.0" rx="4.7" ry="1.3" fill="#fff" opacity="0.60" filter="url(#b2)"/>
<ellipse cx="341.7" cy="371.4" rx="9.4" ry="2.7" fill="#fff" opacity="0.23" filter="url(#b3)"/>
<ellipse cx="341.7" cy="371.4" rx="5.9" ry="1.6" fill="#fff" opacity="0.54" filter="url(#b2)"/>
<ellipse cx="318.6" cy="374.5" rx="8.5" ry="2.3" fill="#fff" opacity="0.23" filter="url(#b3)"/>
<ellipse cx="318.6" cy="374.5" rx="5.3" ry="1.4" fill="#fff" opacity="0.54" filter="url(#b2)"/>
<ellipse cx="363.0" cy="330.6" rx="9.4" ry="3.0" fill="#fff" opacity="0.23" filter="url(#b3)"/>
<ellipse cx="363.0" cy="330.6" rx="5.9" ry="1.8" fill="#fff" opacity="0.54" filter="url(#b2)"/>
<ellipse cx="361.7" cy="339.0" rx="9.4" ry="2.7" fill="#fff" opacity="0.20" filter="url(#b3)"/>
<ellipse cx="361.7" cy="339.0" rx="5.9" ry="1.6" fill="#fff" opacity="0.48" filter="url(#b2)"/>
<ellipse cx="369.4" cy="346.8" rx="4.7" ry="3.0" fill="#fff" opacity="0.35" filter="url(#b3)"/>
<ellipse cx="369.4" cy="346.8" rx="2.9" ry="1.8" fill="#fff" opacity="0.84" filter="url(#b2)"/>
<ellipse cx="363.0" cy="366.8" rx="8.5" ry="2.7" fill="#fff" opacity="0.20" filter="url(#b3)"/>
<ellipse cx="363.0" cy="366.8" rx="5.3" ry="1.6" fill="#fff" opacity="0.48" filter="url(#b2)"/>
<ellipse cx="300.0" cy="322.0" rx="6.6" ry="2.2" fill="#fff" opacity="0.20" filter="url(#b3)"/>
<ellipse cx="300.0" cy="322.0" rx="4.1" ry="1.3" fill="#fff" opacity="0.48" filter="url(#b2)"/>
<ellipse cx="345.0" cy="322.0" rx="9.4" ry="2.2" fill="#fff" opacity="0.18" filter="url(#b3)"/>
<ellipse cx="345.0" cy="322.0" rx="5.9" ry="1.3" fill="#fff" opacity="0.42" filter="url(#b2)"/>
<ellipse cx="365.0" cy="322.0" rx="7.6" ry="2.2" fill="#fff" opacity="0.20" filter="url(#b3)"/>
<ellipse cx="365.0" cy="322.0" rx="4.7" ry="1.3" fill="#fff" opacity="0.48" filter="url(#b2)"/>
<ellipse cx="301.0" cy="342.0" rx="7.6" ry="2.3" fill="#fff" opacity="0.20" filter="url(#b3)"/>
<ellipse cx="301.0" cy="342.0" rx="4.7" ry="1.4" fill="#fff" opacity="0.48" filter="url(#b2)"/>
<ellipse cx="318.0" cy="357.0" rx="9.4" ry="2.3" fill="#fff" opacity="0.18" filter="url(#b3)"/>
<ellipse cx="318.0" cy="357.0" rx="5.9" ry="1.4" fill="#fff" opacity="0.42" filter="url(#b2)"/>
<ellipse cx="330.0" cy="355.0" rx="7.6" ry="2.2" fill="#fff" opacity="0.15" filter="url(#b3)"/>
<ellipse cx="330.0" cy="355.0" rx="4.7" ry="1.3" fill="#fff" opacity="0.36" filter="url(#b2)"/>
<ellipse cx="348.0" cy="366.0" rx="6.6" ry="2.2" fill="#fff" opacity="0.18" filter="url(#b3)"/>
<ellipse cx="348.0" cy="366.0" rx="4.1" ry="1.3" fill="#fff" opacity="0.42" filter="url(#b2)"/>
<ellipse cx="300.0" cy="352.0" rx="5.7" ry="2.2" fill="#fff" opacity="0.15" filter="url(#b3)"/>
<ellipse cx="300.0" cy="352.0" rx="3.5" ry="1.3" fill="#fff" opacity="0.36" filter="url(#b2)"/>
<ellipse cx="327.0" cy="334.0" rx="7.6" ry="2.3" fill="#fff" opacity="0.20" filter="url(#b3)"/>
<ellipse cx="327.0" cy="334.0" rx="4.7" ry="1.4" fill="#fff" opacity="0.48" filter="url(#b2)"/>
</g>
<rect x="295.9" y="318.6" width="75.80" height="59.40" fill="url(#vig)"/>
<rect x="295.9" y="318.6" width="75.80" height="59.40" fill="#fff" opacity="0.12" filter="url(#nz)"/>
</g>
<clipPath id="c3"><rect x="215.1" y="402.3" width="77.10" height="59.90"/></clipPath>
<g clip-path="url(#c3)">
<rect x="215.10" y="402.30" width="77.10" height="59.90" fill="#1a1a1a"/>
<g filter="url(#rough)"><rect x="205.1" y="392.3" width="97.10" height="79.90" fill="none"/>
<ellipse cx="262.3" cy="437.5" rx="2.7" ry="1.2" fill="#fff" opacity="0.90" filter="url(#b1)"/>
<ellipse cx="250.9" cy="437.5" rx="2.0" ry="0.8" fill="#fff" opacity="0.59" filter="url(#b1)"/>
<ellipse cx="270.5" cy="436.8" rx="2.0" ry="0.9" fill="#fff" opacity="0.72" filter="url(#b1)"/>
<ellipse cx="247.6" cy="443.0" rx="2.0" ry="0.9" fill="#fff" opacity="0.50" filter="url(#b1)"/>
<ellipse cx="278.6" cy="439.0" rx="1.7" ry="0.8" fill="#fff" opacity="0.45" filter="url(#b1)"/>
<ellipse cx="223.0" cy="456.5" rx="4.2" ry="1.4" fill="#fff" opacity="0.15" filter="url(#b3)"/>
<ellipse cx="223.0" cy="456.5" rx="3.1" ry="0.8" fill="#fff" opacity="0.50" filter="url(#b1)"/>
<ellipse cx="249.0" cy="409.0" rx="1.0" ry="0.5" fill="#fff" opacity="0.27" filter="url(#b1)"/>
<ellipse cx="229.6" cy="427.7" rx="1.7" ry="0.5" fill="#fff" opacity="0.25" filter="url(#b1)"/>
<ellipse cx="273.7" cy="450.6" rx="1.7" ry="0.5" fill="#fff" opacity="0.25" filter="url(#b1)"/>
<ellipse cx="285.0" cy="453.0" rx="1.7" ry="0.5" fill="#fff" opacity="0.25" filter="url(#b1)"/>
<ellipse cx="257.0" cy="440.5" rx="2.0" ry="0.7" fill="#fff" opacity="0.41" filter="url(#b1)"/>
<ellipse cx="250.0" cy="420.0" rx="1.0" ry="0.5" fill="#fff" opacity="0.20" filter="url(#b1)"/>
<ellipse cx="280.0" cy="428.0" rx="1.4" ry="0.5" fill="#fff" opacity="0.20" filter="url(#b1)"/>
<ellipse cx="256.0" cy="434.5" rx="1.7" ry="0.6" fill="#fff" opacity="0.36" filter="url(#b1)"/>
</g>
<rect x="215.1" y="402.3" width="77.10" height="59.90" fill="url(#vig)"/>
<rect x="215.1" y="402.3" width="77.10" height="59.90" fill="#fff" opacity="0.1" filter="url(#nz)"/>
</g>
<clipPath id="c4"><rect x="295.9" y="402.3" width="75.80" height="59.90"/></clipPath>
<g clip-path="url(#c4)">
<rect x="295.90" y="402.30" width="75.80" height="59.90" fill="#1c1c1c"/>
<g filter="url(#rough)"><rect x="285.9" y="392.3" width="95.80" height="79.90" fill="none"/>
<ellipse cx="307.0" cy="412.6" rx="2.0" ry="1.5" fill="#fff" opacity="0.80" filter="url(#b2)"/>
<ellipse cx="317.0" cy="417.2" rx="2.7" ry="0.8" fill="#fff" opacity="0.36" filter="url(#b1)"/>
<ellipse cx="331.7" cy="419.7" rx="2.4" ry="1.2" fill="#fff" opacity="0.63" filter="url(#b1)"/>
<ellipse cx="318.6" cy="423.4" rx="4.2" ry="2.1" fill="#fff" opacity="0.25" filter="url(#b3)"/>
<ellipse cx="318.6" cy="423.4" rx="3.1" ry="1.1" fill="#fff" opacity="0.81" filter="url(#b1)"/>
<ellipse cx="328.6" cy="424.6" rx="2.4" ry="1.0" fill="#fff" opacity="0.77" filter="url(#b1)"/>
<ellipse cx="341.7" cy="427.7" rx="2.7" ry="0.9" fill="#fff" opacity="0.77" filter="url(#b1)"/>
<ellipse cx="334.0" cy="428.5" rx="2.0" ry="0.8" fill="#fff" opacity="0.54" filter="url(#b1)"/>
<ellipse cx="312.0" cy="430.0" rx="2.0" ry="0.7" fill="#fff" opacity="0.50" filter="url(#b1)"/>
<ellipse cx="320.0" cy="430.2" rx="2.0" ry="0.7" fill="#fff" opacity="0.50" filter="url(#b1)"/>
<ellipse cx="327.0" cy="430.5" rx="1.7" ry="0.7" fill="#fff" opacity="0.45" filter="url(#b1)"/>
<ellipse cx="298.6" cy="431.5" rx="2.7" ry="0.7" fill="#fff" opacity="0.54" filter="url(#b1)"/>
<ellipse cx="304.5" cy="431.2" rx="1.7" ry="0.6" fill="#fff" opacity="0.41" filter="url(#b1)"/>
<ellipse cx="311.0" cy="434.0" rx="2.0" ry="0.8" fill="#fff" opacity="0.50" filter="url(#b1)"/>
<ellipse cx="327.0" cy="434.0" rx="2.0" ry="0.8" fill="#fff" opacity="0.50" filter="url(#b1)"/>
<ellipse cx="344.8" cy="441.2" rx="2.4" ry="0.8" fill="#fff" opacity="0.68" filter="url(#b1)"/>
<ellipse cx="358.6" cy="441.2" rx="2.4" ry="0.6" fill="#fff" opacity="0.32" filter="url(#b1)"/>
<ellipse cx="367.8" cy="437.7" rx="1.7" ry="0.8" fill="#fff" opacity="0.45" filter="url(#b1)"/>
<ellipse cx="368.6" cy="441.5" rx="1.7" ry="0.7" fill="#fff" opacity="0.41" filter="url(#b1)"/>
<ellipse cx="334.0" cy="443.8" rx="2.0" ry="0.8" fill="#fff" opacity="0.50" filter="url(#b1)"/>
<ellipse cx="330.0" cy="446.0" rx="1.7" ry="0.7" fill="#fff" opacity="0.41" filter="url(#b1)"/>
<ellipse cx="333.0" cy="450.0" rx="1.7" ry="0.8" fill="#fff" opacity="0.54" filter="url(#b1)"/>
<ellipse cx="322.5" cy="449.0" rx="1.4" ry="0.7" fill="#fff" opacity="0.45" filter="url(#b1)"/>
<ellipse cx="322.5" cy="453.0" rx="1.4" ry="0.7" fill="#fff" opacity="0.45" filter="url(#b1)"/>
<ellipse cx="349.4" cy="453.5" rx="2.4" ry="0.9" fill="#fff" opacity="0.72" filter="url(#b1)"/>
<ellipse cx="357.0" cy="454.0" rx="2.0" ry="0.7" fill="#fff" opacity="0.50" filter="url(#b1)"/>
<ellipse cx="363.0" cy="453.8" rx="1.7" ry="0.7" fill="#fff" opacity="0.45" filter="url(#b1)"/>
<ellipse cx="344.8" cy="457.0" rx="1.7" ry="0.7" fill="#fff" opacity="0.45" filter="url(#b1)"/>
<ellipse cx="344.8" cy="407.0" rx="2.0" ry="0.5" fill="#fff" opacity="0.32" filter="url(#b1)"/>
<ellipse cx="327.8" cy="407.7" rx="2.0" ry="0.5" fill="#fff" opacity="0.27" filter="url(#b1)"/>
<ellipse cx="361.7" cy="405.4" rx="2.4" ry="0.5" fill="#fff" opacity="0.27" filter="url(#b1)"/>
<ellipse cx="323.0" cy="404.6" rx="1.7" ry="0.5" fill="#fff" opacity="0.27" filter="url(#b1)"/>
<ellipse cx="301.0" cy="410.8" rx="1.7" ry="0.5" fill="#fff" opacity="0.27" filter="url(#b1)"/>
<ellipse cx="352.0" cy="431.0" rx="1.7" ry="0.5" fill="#fff" opacity="0.27" filter="url(#b1)"/>
<ellipse cx="338.0" cy="447.0" rx="1.4" ry="0.6" fill="#fff" opacity="0.36" filter="url(#b1)"/>
</g>
<rect x="295.9" y="402.3" width="75.80" height="59.90" fill="url(#vig)"/>
<rect x="295.9" y="402.3" width="75.80" height="59.90" fill="#fff" opacity="0.1" filter="url(#nz)"/>
</g>
<clipPath id="c5"><rect x="215.1" y="488.9" width="77.10" height="59.40"/></clipPath>
<g clip-path="url(#c5)">
<rect x="215.10" y="488.90" width="77.10" height="59.40" fill="#242424"/>
<g filter="url(#rough)"><rect x="205.1" y="478.9" width="97.10" height="79.40" fill="none"/>
<ellipse cx="242.7" cy="497.0" rx="8.2" ry="1.3" fill="#fff" opacity="0.13" filter="url(#b3)"/>
<ellipse cx="242.7" cy="497.0" rx="9.3" ry="1.4" fill="#fff" opacity="0.18" filter="url(#b2)"/>
<ellipse cx="242.7" cy="497.0" rx="6.1" ry="0.7" fill="#fff" opacity="0.41" filter="url(#b1)"/>
<ellipse cx="250.9" cy="508.8" rx="6.8" ry="1.1" fill="#fff" opacity="0.10" filter="url(#b3)"/>
<ellipse cx="250.9" cy="508.8" rx="7.6" ry="1.3" fill="#fff" opacity="0.14" filter="url(#b2)"/>
<ellipse cx="250.9" cy="508.8" rx="5.0" ry="0.6" fill="#fff" opacity="0.32" filter="url(#b1)"/>
<ellipse cx="268.8" cy="520.9" rx="4.5" ry="1.0" fill="#fff" opacity="0.07" filter="url(#b3)"/>
<ellipse cx="268.8" cy="520.9" rx="5.1" ry="1.1" fill="#fff" opacity="0.10" filter="url(#b2)"/>
<ellipse cx="268.8" cy="520.9" rx="3.3" ry="0.5" fill="#fff" opacity="0.23" filter="url(#b1)"/>
<ellipse cx="239.4" cy="528.4" rx="4.5" ry="1.0" fill="#fff" opacity="0.08" filter="url(#b3)"/>
<ellipse cx="239.4" cy="528.4" rx="5.1" ry="1.1" fill="#fff" opacity="0.12" filter="url(#b2)"/>
<ellipse cx="239.4" cy="528.4" rx="3.3" ry="0.5" fill="#fff" opacity="0.27" filter="url(#b1)"/>
<ellipse cx="270.5" cy="526.7" rx="4.5" ry="1.0" fill="#fff" opacity="0.07" filter="url(#b3)"/>
<ellipse cx="270.5" cy="526.7" rx="5.1" ry="1.1" fill="#fff" opacity="0.10" filter="url(#b2)"/>
<ellipse cx="270.5" cy="526.7" rx="3.3" ry="0.5" fill="#fff" opacity="0.23" filter="url(#b1)"/>
<ellipse cx="282.0" cy="540.5" rx="6.0" ry="2.2" fill="#fff" opacity="0.27" filter="url(#b3)"/>
<ellipse cx="282.0" cy="540.5" rx="6.8" ry="2.5" fill="#fff" opacity="0.38" filter="url(#b2)"/>
<ellipse cx="282.0" cy="540.5" rx="4.4" ry="1.2" fill="#fff" opacity="0.85" filter="url(#b1)"/>
<ellipse cx="272.0" cy="539.8" rx="6.0" ry="1.3" fill="#fff" opacity="0.13" filter="url(#b3)"/>
<ellipse cx="272.0" cy="539.8" rx="6.8" ry="1.4" fill="#fff" opacity="0.18" filter="url(#b2)"/>
<ellipse cx="272.0" cy="539.8" rx="4.4" ry="0.7" fill="#fff" opacity="0.41" filter="url(#b1)"/>
<ellipse cx="260.0" cy="540.2" rx="7.5" ry="1.1" fill="#fff" opacity="0.11" filter="url(#b3)"/>
<ellipse cx="260.0" cy="540.2" rx="8.5" ry="1.3" fill="#fff" opacity="0.16" filter="url(#b2)"/>
<ellipse cx="260.0" cy="540.2" rx="5.5" ry="0.6" fill="#fff" opacity="0.36" filter="url(#b1)"/>
<ellipse cx="246.0" cy="540.5" rx="7.5" ry="1.1" fill="#fff" opacity="0.11" filter="url(#b3)"/>
<ellipse cx="246.0" cy="540.5" rx="8.5" ry="1.3" fill="#fff" opacity="0.16" filter="url(#b2)"/>
<ellipse cx="246.0" cy="540.5" rx="5.5" ry="0.6" fill="#fff" opacity="0.36" filter="url(#b1)"/>
<ellipse cx="233.0" cy="540.0" rx="6.0" ry="1.1" fill="#fff" opacity="0.11" filter="url(#b3)"/>
<ellipse cx="233.0" cy="540.0" rx="6.8" ry="1.3" fill="#fff" opacity="0.16" filter="url(#b2)"/>
<ellipse cx="233.0" cy="540.0" rx="4.4" ry="0.6" fill="#fff" opacity="0.36" filter="url(#b1)"/>
<ellipse cx="232.9" cy="537.0" rx="4.5" ry="1.0" fill="#fff" opacity="0.10" filter="url(#b3)"/>
<ellipse cx="232.9" cy="537.0" rx="5.1" ry="1.1" fill="#fff" opacity="0.14" filter="url(#b2)"/>
<ellipse cx="232.9" cy="537.0" rx="3.3" ry="0.5" fill="#fff" opacity="0.32" filter="url(#b1)"/>
<ellipse cx="262.0" cy="536.5" rx="6.0" ry="1.0" fill="#fff" opacity="0.08" filter="url(#b3)"/>
<ellipse cx="262.0" cy="536.5" rx="6.8" ry="1.1" fill="#fff" opacity="0.12" filter="url(#b2)"/>
<ellipse cx="262.0" cy="536.5" rx="4.4" ry="0.5" fill="#fff" opacity="0.27" filter="url(#b1)"/>
<ellipse cx="253.0" cy="536.0" rx="4.5" ry="0.8" fill="#fff" opacity="0.07" filter="url(#b3)"/>
<ellipse cx="253.0" cy="536.0" rx="5.1" ry="0.9" fill="#fff" opacity="0.10" filter="url(#b2)"/>
<ellipse cx="253.0" cy="536.0" rx="3.3" ry="0.5" fill="#fff" opacity="0.23" filter="url(#b1)"/>
<ellipse cx="285.0" cy="493.0" rx="4.5" ry="0.8" fill="#fff" opacity="0.07" filter="url(#b3)"/>
<ellipse cx="285.0" cy="493.0" rx="5.1" ry="0.9" fill="#fff" opacity="0.10" filter="url(#b2)"/>
<ellipse cx="285.0" cy="493.0" rx="3.3" ry="0.5" fill="#fff" opacity="0.23" filter="url(#b1)"/>
<ellipse cx="276.0" cy="537.5" rx="4.5" ry="1.0" fill="#fff" opacity="0.10" filter="url(#b3)"/>
<ellipse cx="276.0" cy="537.5" rx="5.1" ry="1.1" fill="#fff" opacity="0.14" filter="url(#b2)"/>
<ellipse cx="276.0" cy="537.5" rx="3.3" ry="0.5" fill="#fff" opacity="0.32" filter="url(#b1)"/>
</g>
<rect x="215.1" y="488.9" width="77.10" height="59.40" fill="url(#vig)"/>
<rect x="215.1" y="488.9" width="77.10" height="59.40" fill="#fff" opacity="0.1" filter="url(#nz)"/>
</g>
<clipPath id="c6"><rect x="295.9" y="488.9" width="75.80" height="59.40"/></clipPath>
<g clip-path="url(#c6)">
<rect x="295.90" y="488.90" width="75.80" height="59.40" fill="#2a2a2a"/>
<g filter="url(#rough)"><rect x="285.9" y="478.9" width="95.80" height="79.40" fill="none"/>
<ellipse cx="321.7" cy="493.0" rx="9.6" ry="2.2" fill="#fff" opacity="0.17" filter="url(#b3)"/>
<ellipse cx="321.7" cy="493.0" rx="6.0" ry="1.3" fill="#fff" opacity="0.40" filter="url(#b2)"/>
<ellipse cx="331.7" cy="495.5" rx="3.2" ry="2.2" fill="#fff" opacity="0.15" filter="url(#b3)"/>
<ellipse cx="331.7" cy="495.5" rx="2.0" ry="1.3" fill="#fff" opacity="0.35" filter="url(#b2)"/>
<ellipse cx="309.4" cy="501.4" rx="8.0" ry="2.2" fill="#fff" opacity="0.17" filter="url(#b3)"/>
<ellipse cx="309.4" cy="501.4" rx="5.0" ry="1.3" fill="#fff" opacity="0.40" filter="url(#b2)"/>
<ellipse cx="302.5" cy="507.5" rx="7.2" ry="2.2" fill="#fff" opacity="0.19" filter="url(#b3)"/>
<ellipse cx="302.5" cy="507.5" rx="4.5" ry="1.4" fill="#fff" opacity="0.45" filter="url(#b2)"/>
<ellipse cx="317.0" cy="510.3" rx="6.4" ry="3.3" fill="#fff" opacity="0.38" filter="url(#b3)"/>
<ellipse cx="317.0" cy="510.3" rx="4.0" ry="2.0" fill="#fff" opacity="0.90" filter="url(#b2)"/>
<ellipse cx="303.0" cy="513.7" rx="9.6" ry="2.2" fill="#fff" opacity="0.21" filter="url(#b3)"/>
<ellipse cx="303.0" cy="513.7" rx="6.0" ry="1.4" fill="#fff" opacity="0.50" filter="url(#b2)"/>
<ellipse cx="319.4" cy="518.3" rx="4.8" ry="2.2" fill="#fff" opacity="0.21" filter="url(#b3)"/>
<ellipse cx="319.4" cy="518.3" rx="3.0" ry="1.3" fill="#fff" opacity="0.50" filter="url(#b2)"/>
<ellipse cx="328.6" cy="518.6" rx="3.2" ry="2.2" fill="#fff" opacity="0.17" filter="url(#b3)"/>
<ellipse cx="328.6" cy="518.6" rx="2.0" ry="1.3" fill="#fff" opacity="0.40" filter="url(#b2)"/>
<ellipse cx="349.4" cy="506.0" rx="7.2" ry="2.2" fill="#fff" opacity="0.32" filter="url(#b3)"/>
<ellipse cx="349.4" cy="506.0" rx="4.5" ry="1.3" fill="#fff" opacity="0.75" filter="url(#b2)"/>
<ellipse cx="367.8" cy="507.5" rx="4.8" ry="2.2" fill="#fff" opacity="0.21" filter="url(#b3)"/>
<ellipse cx="367.8" cy="507.5" rx="3.0" ry="1.3" fill="#fff" opacity="0.50" filter="url(#b2)"/>
<ellipse cx="360.0" cy="510.6" rx="4.8" ry="2.2" fill="#fff" opacity="0.15" filter="url(#b3)"/>
<ellipse cx="360.0" cy="510.6" rx="3.0" ry="1.3" fill="#fff" opacity="0.35" filter="url(#b2)"/>
<ellipse cx="342.5" cy="502.6" rx="3.2" ry="2.2" fill="#fff" opacity="0.15" filter="url(#b3)"/>
<ellipse cx="342.5" cy="502.6" rx="2.0" ry="1.3" fill="#fff" opacity="0.35" filter="url(#b2)"/>
<ellipse cx="337.0" cy="526.3" rx="8.0" ry="2.2" fill="#fff" opacity="0.27" filter="url(#b3)"/>
<ellipse cx="337.0" cy="526.3" rx="5.0" ry="1.3" fill="#fff" opacity="0.65" filter="url(#b2)"/>
<ellipse cx="311.0" cy="529.8" rx="4.8" ry="2.2" fill="#fff" opacity="0.19" filter="url(#b3)"/>
<ellipse cx="311.0" cy="529.8" rx="3.0" ry="1.3" fill="#fff" opacity="0.45" filter="url(#b2)"/>
<ellipse cx="360.0" cy="527.5" rx="4.0" ry="2.2" fill="#fff" opacity="0.27" filter="url(#b3)"/>
<ellipse cx="360.0" cy="527.5" rx="2.5" ry="1.3" fill="#fff" opacity="0.65" filter="url(#b2)"/>
<ellipse cx="351.0" cy="528.3" rx="4.0" ry="2.2" fill="#fff" opacity="0.17" filter="url(#b3)"/>
<ellipse cx="351.0" cy="528.3" rx="2.5" ry="1.3" fill="#fff" opacity="0.40" filter="url(#b2)"/>
<ellipse cx="340.0" cy="539.0" rx="7.2" ry="3.8" fill="#fff" opacity="0.40" filter="url(#b3)"/>
<ellipse cx="340.0" cy="539.0" rx="4.5" ry="2.2" fill="#fff" opacity="0.95" filter="url(#b2)"/>
<ellipse cx="345.5" cy="543.2" rx="5.6" ry="2.5" fill="#fff" opacity="0.36" filter="url(#b3)"/>
<ellipse cx="345.5" cy="543.2" rx="3.5" ry="1.5" fill="#fff" opacity="0.85" filter="url(#b2)"/>
<ellipse cx="355.5" cy="535.2" rx="7.2" ry="2.2" fill="#fff" opacity="0.19" filter="url(#b3)"/>
<ellipse cx="355.5" cy="535.2" rx="4.5" ry="1.4" fill="#fff" opacity="0.45" filter="url(#b2)"/>
<ellipse cx="364.8" cy="533.7" rx="6.4" ry="2.2" fill="#fff" opacity="0.17" filter="url(#b3)"/>
<ellipse cx="364.8" cy="533.7" rx="4.0" ry="1.3" fill="#fff" opacity="0.40" filter="url(#b2)"/>
<ellipse cx="360.0" cy="539.8" rx="7.2" ry="2.2" fill="#fff" opacity="0.17" filter="url(#b3)"/>
<ellipse cx="360.0" cy="539.8" rx="4.5" ry="1.3" fill="#fff" opacity="0.40" filter="url(#b2)"/>
<ellipse cx="324.8" cy="541.4" rx="7.2" ry="2.2" fill="#fff" opacity="0.15" filter="url(#b3)"/>
<ellipse cx="324.8" cy="541.4" rx="4.5" ry="1.3" fill="#fff" opacity="0.35" filter="url(#b2)"/>
<ellipse cx="320.0" cy="544.5" rx="5.6" ry="2.2" fill="#fff" opacity="0.15" filter="url(#b3)"/>
<ellipse cx="320.0" cy="544.5" rx="3.5" ry="1.3" fill="#fff" opacity="0.35" filter="url(#b2)"/>
<ellipse cx="361.7" cy="519.0" rx="3.2" ry="2.2" fill="#fff" opacity="0.15" filter="url(#b3)"/>
<ellipse cx="361.7" cy="519.0" rx="2.0" ry="1.3" fill="#fff" opacity="0.35" filter="url(#b2)"/>
<ellipse cx="326.3" cy="505.2" rx="3.2" ry="2.2" fill="#fff" opacity="0.15" filter="url(#b3)"/>
<ellipse cx="326.3" cy="505.2" rx="2.0" ry="1.3" fill="#fff" opacity="0.35" filter="url(#b2)"/>
<ellipse cx="310.0" cy="507.0" rx="4.8" ry="2.2" fill="#fff" opacity="0.17" filter="url(#b3)"/>
<ellipse cx="310.0" cy="507.0" rx="3.0" ry="1.3" fill="#fff" opacity="0.40" filter="url(#b2)"/>
<ellipse cx="332.0" cy="542.0" rx="5.6" ry="2.2" fill="#fff" opacity="0.19" filter="url(#b3)"/>
<ellipse cx="332.0" cy="542.0" rx="3.5" ry="1.3" fill="#fff" opacity="0.45" filter="url(#b2)"/>
<ellipse cx="350.0" cy="540.0" rx="5.6" ry="2.2" fill="#fff" opacity="0.17" filter="url(#b3)"/>
<ellipse cx="350.0" cy="540.0" rx="3.5" ry="1.3" fill="#fff" opacity="0.40" filter="url(#b2)"/>
</g>
<rect x="295.9" y="488.9" width="75.80" height="59.40" fill="url(#vig)"/>
<rect x="295.9" y="488.9" width="75.80" height="59.40" fill="#fff" opacity="0.12" filter="url(#nz)"/>
</g>
<clipPath id="c7"><rect x="215.1" y="571.6" width="77.10" height="58.60"/></clipPath>
<g clip-path="url(#c7)">
<rect x="215.10" y="571.60" width="77.10" height="58.60" fill="#292929"/>
<ellipse cx="240" cy="612" rx="36" ry="28" fill="url(#glow)"/>
<g filter="url(#rough)"><rect x="205.1" y="561.6" width="97.10" height="78.60" fill="none"/>
<ellipse cx="250.9" cy="576.4" rx="3.8" ry="1.4" fill="#fff" opacity="0.15" filter="url(#b3)"/>
<ellipse cx="250.9" cy="576.4" rx="2.8" ry="0.8" fill="#fff" opacity="0.50" filter="url(#b1)"/>
<ellipse cx="245.3" cy="592.8" rx="4.5" ry="1.3" fill="#fff" opacity="0.14" filter="url(#b3)"/>
<ellipse cx="245.3" cy="592.8" rx="5.1" ry="1.4" fill="#fff" opacity="0.20" filter="url(#b2)"/>
<ellipse cx="245.3" cy="592.8" rx="3.3" ry="0.7" fill="#fff" opacity="0.45" filter="url(#b1)"/>
<ellipse cx="241.0" cy="597.7" rx="4.5" ry="1.0" fill="#fff" opacity="0.08" filter="url(#b3)"/>
<ellipse cx="241.0" cy="597.7" rx="5.1" ry="1.1" fill="#fff" opacity="0.12" filter="url(#b2)"/>
<ellipse cx="241.0" cy="597.7" rx="3.3" ry="0.5" fill="#fff" opacity="0.27" filter="url(#b1)"/>
<ellipse cx="268.8" cy="597.7" rx="3.8" ry="1.3" fill="#fff" opacity="0.13" filter="url(#b3)"/>
<ellipse cx="268.8" cy="597.7" rx="2.8" ry="0.7" fill="#fff" opacity="0.41" filter="url(#b1)"/>
<ellipse cx="239.5" cy="618.0" rx="6.0" ry="1.6" fill="#fff" opacity="0.25" filter="url(#b3)"/>
<ellipse cx="239.5" cy="618.0" rx="6.8" ry="1.8" fill="#fff" opacity="0.36" filter="url(#b2)"/>
<ellipse cx="239.5" cy="618.0" rx="4.4" ry="0.8" fill="#fff" opacity="0.81" filter="url(#b1)"/>
<ellipse cx="270.5" cy="615.0" rx="2.5" ry="0.6" fill="#fff" opacity="0.41" filter="url(#b1)"/>
<ellipse cx="243.0" cy="577.0" rx="2.2" ry="0.5" fill="#fff" opacity="0.27" filter="url(#b1)"/>
<ellipse cx="272.0" cy="596.0" rx="1.7" ry="0.5" fill="#fff" opacity="0.27" filter="url(#b1)"/>
</g>
<rect x="215.1" y="571.6" width="77.10" height="58.60" fill="url(#vig)"/>
<rect x="215.1" y="571.6" width="77.10" height="58.60" fill="#fff" opacity="0.1" filter="url(#nz)"/>
</g>
<clipPath id="c8"><rect x="295.9" y="571.6" width="75.80" height="58.60"/></clipPath>
<g clip-path="url(#c8)">
<rect x="295.90" y="571.60" width="75.80" height="58.60" fill="#262626"/>
<g filter="url(#rough)"><rect x="285.9" y="561.6" width="95.80" height="78.60" fill="none"/>
<ellipse cx="327.7" cy="587.9" rx="9.0" ry="1.0" fill="#fff" opacity="0.11" filter="url(#b3)"/>
<ellipse cx="327.7" cy="587.9" rx="10.2" ry="1.2" fill="#fff" opacity="0.16" filter="url(#b2)"/>
<ellipse cx="327.7" cy="587.9" rx="6.6" ry="0.5" fill="#fff" opacity="0.37" filter="url(#b1)"/>
<ellipse cx="303.0" cy="592.0" rx="9.0" ry="0.8" fill="#fff" opacity="0.07" filter="url(#b3)"/>
<ellipse cx="303.0" cy="592.0" rx="10.2" ry="0.9" fill="#fff" opacity="0.10" filter="url(#b2)"/>
<ellipse cx="303.0" cy="592.0" rx="6.6" ry="0.5" fill="#fff" opacity="0.23" filter="url(#b1)"/>
<ellipse cx="357.0" cy="579.7" rx="7.2" ry="0.8" fill="#fff" opacity="0.07" filter="url(#b3)"/>
<ellipse cx="357.0" cy="579.7" rx="8.2" ry="0.9" fill="#fff" opacity="0.10" filter="url(#b2)"/>
<ellipse cx="357.0" cy="579.7" rx="5.3" ry="0.5" fill="#fff" opacity="0.23" filter="url(#b1)"/>
<ellipse cx="353.8" cy="607.5" rx="9.0" ry="1.0" fill="#fff" opacity="0.11" filter="url(#b3)"/>
<ellipse cx="353.8" cy="607.5" rx="10.2" ry="1.2" fill="#fff" opacity="0.15" filter="url(#b2)"/>
<ellipse cx="353.8" cy="607.5" rx="6.6" ry="0.5" fill="#fff" opacity="0.34" filter="url(#b1)"/>
<ellipse cx="360.0" cy="601.0" rx="7.2" ry="0.8" fill="#fff" opacity="0.07" filter="url(#b3)"/>
<ellipse cx="360.0" cy="601.0" rx="8.2" ry="0.9" fill="#fff" opacity="0.10" filter="url(#b2)"/>
<ellipse cx="360.0" cy="601.0" rx="5.3" ry="0.5" fill="#fff" opacity="0.23" filter="url(#b1)"/>
<ellipse cx="311.0" cy="613.4" rx="5.4" ry="0.9" fill="#fff" opacity="0.08" filter="url(#b3)"/>
<ellipse cx="311.0" cy="613.4" rx="6.1" ry="1.0" fill="#fff" opacity="0.12" filter="url(#b2)"/>
<ellipse cx="311.0" cy="613.4" rx="4.0" ry="0.5" fill="#fff" opacity="0.27" filter="url(#b1)"/>
<ellipse cx="324.4" cy="618.3" rx="7.2" ry="1.0" fill="#fff" opacity="0.10" filter="url(#b3)"/>
<ellipse cx="324.4" cy="618.3" rx="8.2" ry="1.2" fill="#fff" opacity="0.14" filter="url(#b2)"/>
<ellipse cx="324.4" cy="618.3" rx="5.3" ry="0.5" fill="#fff" opacity="0.31" filter="url(#b1)"/>
<ellipse cx="340.7" cy="614.0" rx="7.2" ry="0.9" fill="#fff" opacity="0.08" filter="url(#b3)"/>
<ellipse cx="340.7" cy="614.0" rx="8.2" ry="1.0" fill="#fff" opacity="0.12" filter="url(#b2)"/>
<ellipse cx="340.7" cy="614.0" rx="5.3" ry="0.5" fill="#fff" opacity="0.27" filter="url(#b1)"/>
<ellipse cx="301.5" cy="625.5" rx="7.2" ry="0.9" fill="#fff" opacity="0.08" filter="url(#b3)"/>
<ellipse cx="301.5" cy="625.5" rx="8.2" ry="1.0" fill="#fff" opacity="0.12" filter="url(#b2)"/>
<ellipse cx="301.5" cy="625.5" rx="5.3" ry="0.5" fill="#fff" opacity="0.27" filter="url(#b1)"/>
<ellipse cx="363.6" cy="620.6" rx="7.2" ry="0.9" fill="#fff" opacity="0.08" filter="url(#b3)"/>
<ellipse cx="363.6" cy="620.6" rx="8.2" ry="1.0" fill="#fff" opacity="0.12" filter="url(#b2)"/>
<ellipse cx="363.6" cy="620.6" rx="5.3" ry="0.5" fill="#fff" opacity="0.27" filter="url(#b1)"/>
<ellipse cx="322.8" cy="624.8" rx="7.2" ry="0.9" fill="#fff" opacity="0.07" filter="url(#b3)"/>
<ellipse cx="322.8" cy="624.8" rx="8.2" ry="1.0" fill="#fff" opacity="0.10" filter="url(#b2)"/>
<ellipse cx="322.8" cy="624.8" rx="5.3" ry="0.5" fill="#fff" opacity="0.23" filter="url(#b1)"/>
<ellipse cx="345.0" cy="596.0" rx="5.4" ry="0.7" fill="#fff" opacity="0.05" filter="url(#b3)"/>
<ellipse cx="345.0" cy="596.0" rx="6.1" ry="0.8" fill="#fff" opacity="0.08" filter="url(#b2)"/>
<ellipse cx="345.0" cy="596.0" rx="4.0" ry="0.5" fill="#fff" opacity="0.17" filter="url(#b1)"/>
<ellipse cx="310.0" cy="603.0" rx="5.4" ry="0.7" fill="#fff" opacity="0.05" filter="url(#b3)"/>
<ellipse cx="310.0" cy="603.0" rx="6.1" ry="0.8" fill="#fff" opacity="0.08" filter="url(#b2)"/>
<ellipse cx="310.0" cy="603.0" rx="4.0" ry="0.5" fill="#fff" opacity="0.17" filter="url(#b1)"/>
<ellipse cx="335.0" cy="606.0" rx="5.4" ry="0.7" fill="#fff" opacity="0.05" filter="url(#b3)"/>
<ellipse cx="335.0" cy="606.0" rx="6.1" ry="0.8" fill="#fff" opacity="0.08" filter="url(#b2)"/>
<ellipse cx="335.0" cy="606.0" rx="4.0" ry="0.5" fill="#fff" opacity="0.17" filter="url(#b1)"/>
<ellipse cx="365.0" cy="590.0" rx="5.4" ry="0.7" fill="#fff" opacity="0.05" filter="url(#b3)"/>
<ellipse cx="365.0" cy="590.0" rx="6.1" ry="0.8" fill="#fff" opacity="0.08" filter="url(#b2)"/>
<ellipse cx="365.0" cy="590.0" rx="4.0" ry="0.5" fill="#fff" opacity="0.17" filter="url(#b1)"/>
<ellipse cx="318.0" cy="580.0" rx="5.4" ry="0.7" fill="#fff" opacity="0.05" filter="url(#b3)"/>
<ellipse cx="318.0" cy="580.0" rx="6.1" ry="0.8" fill="#fff" opacity="0.08" filter="url(#b2)"/>
<ellipse cx="318.0" cy="580.0" rx="4.0" ry="0.5" fill="#fff" opacity="0.17" filter="url(#b1)"/>
<ellipse cx="348.0" cy="622.0" rx="5.4" ry="0.7" fill="#fff" opacity="0.06" filter="url(#b3)"/>
<ellipse cx="348.0" cy="622.0" rx="6.1" ry="0.8" fill="#fff" opacity="0.09" filter="url(#b2)"/>
<ellipse cx="348.0" cy="622.0" rx="4.0" ry="0.5" fill="#fff" opacity="0.20" filter="url(#b1)"/>
</g>
<rect x="295.9" y="571.6" width="75.80" height="58.60" fill="url(#vig)"/>
<rect x="295.9" y="571.6" width="75.80" height="58.60" fill="#fff" opacity="0.1" filter="url(#nz)"/>
</g>
<line x1="215.10" y1="641.20" x2="253.60" y2="641.20" stroke="#111" stroke-width="1.8" />
<text x="293.50" y="638.50" font-size="7.5" text-anchor="middle" fill="#222" >Flow Direction</text>
<text x="293.5" y="647" font-size="7.5" text-anchor="middle" fill="#222">(2000 sec<tspan dy="-2.8" font-size="4.8">-1</tspan><tspan dy="2.8" font-size="7.5">)</tspan></text>
<line x1="335.80" y1="641.20" x2="364.00" y2="641.20" stroke="#111" stroke-width="1.8" />
<path d="M362.5,638 L369.6,641.2 L362.5,644.4 Z" fill="#111"/>
<text x="448" y="323.7" font-size="7.4" text-anchor="middle" fill="#222" stroke="#222">Wild Type</text>
<line x1="407.60" y1="323.50" x2="407.60" y2="374.00" stroke="#111" stroke-width="1.2" />
<line x1="407.10" y1="373.50" x2="488.00" y2="373.50" stroke="#111" stroke-width="1.2" />
<line x1="405.30" y1="373.50" x2="407.60" y2="373.50" stroke="#111" stroke-width="0.9" />
<text x="403.40" y="375.55" font-size="5.7" text-anchor="end" fill="#111" stroke="#111" >0</text>
<line x1="405.30" y1="361.70" x2="407.60" y2="361.70" stroke="#111" stroke-width="0.9" />
<text x="403.40" y="363.75" font-size="5.7" text-anchor="end" fill="#111" stroke="#111" >5</text>
<line x1="405.30" y1="349.90" x2="407.60" y2="349.90" stroke="#111" stroke-width="0.9" />
<text x="403.40" y="351.95" font-size="5.7" text-anchor="end" fill="#111" stroke="#111" >10</text>
<line x1="405.30" y1="338.10" x2="407.60" y2="338.10" stroke="#111" stroke-width="0.9" />
<text x="403.40" y="340.15" font-size="5.7" text-anchor="end" fill="#111" stroke="#111" >15</text>
<line x1="405.30" y1="326.30" x2="407.60" y2="326.30" stroke="#111" stroke-width="0.9" />
<text x="403.40" y="328.35" font-size="5.7" text-anchor="end" fill="#111" stroke="#111" >20</text>
<line x1="407.60" y1="373.50" x2="407.60" y2="375.80" stroke="#111" stroke-width="0.9" />
<text x="407.60" y="382.82" font-size="5.6" text-anchor="middle" fill="#111" stroke="#111" >0</text>
<line x1="418.87" y1="373.50" x2="418.87" y2="375.80" stroke="#111" stroke-width="0.9" />
<text x="418.87" y="382.82" font-size="5.6" text-anchor="middle" fill="#111" stroke="#111" >10</text>
<line x1="430.14" y1="373.50" x2="430.14" y2="375.80" stroke="#111" stroke-width="0.9" />
<text x="430.14" y="382.82" font-size="5.6" text-anchor="middle" fill="#111" stroke="#111" >20</text>
<line x1="441.41" y1="373.50" x2="441.41" y2="375.80" stroke="#111" stroke-width="0.9" />
<text x="441.41" y="382.82" font-size="5.6" text-anchor="middle" fill="#111" stroke="#111" >30</text>
<line x1="452.68" y1="373.50" x2="452.68" y2="375.80" stroke="#111" stroke-width="0.9" />
<text x="452.68" y="382.82" font-size="5.6" text-anchor="middle" fill="#111" stroke="#111" >40</text>
<line x1="463.95" y1="373.50" x2="463.95" y2="375.80" stroke="#111" stroke-width="0.9" />
<text x="463.95" y="382.82" font-size="5.6" text-anchor="middle" fill="#111" stroke="#111" >50</text>
<line x1="475.22" y1="373.50" x2="475.22" y2="375.80" stroke="#111" stroke-width="0.9" />
<text x="475.22" y="382.82" font-size="5.6" text-anchor="middle" fill="#111" stroke="#111" >60</text>
<line x1="486.49" y1="373.50" x2="486.49" y2="375.80" stroke="#111" stroke-width="0.9" />
<text x="486.49" y="382.82" font-size="5.6" text-anchor="middle" fill="#111" stroke="#111" >70</text>
<path d="M430.14,373.50 L435.78,370.67 L441.41,367.13 L447.05,362.17 L452.68,357.22 L458.31,351.55 L463.95,347.07 L469.59,342.82 L475.22,338.81 L480.86,334.32 L486.49,330.31 L486.49,352.73 L480.86,355.09 L475.22,357.22 L469.59,359.81 L463.95,361.94 L458.31,363.35 L452.68,366.42 L447.05,369.96 L441.41,372.56 L435.78,373.50 L430.14,373.50Z" fill="#f3b3a2" stroke="#d63a22" stroke-width="0.4"/>
<line x1="432.73" y1="372.20" x2="432.73" y2="373.50" stroke="#d63a22" stroke-width="0.35" />
<line x1="431.93" y1="372.20" x2="433.53" y2="372.20" stroke="#d63a22" stroke-width="0.35" />
<line x1="435.32" y1="370.89" x2="435.32" y2="373.50" stroke="#d63a22" stroke-width="0.35" />
<line x1="434.52" y1="370.89" x2="436.12" y2="370.89" stroke="#d63a22" stroke-width="0.35" />
<line x1="437.92" y1="369.32" x2="437.92" y2="373.14" stroke="#d63a22" stroke-width="0.35" />
<line x1="437.12" y1="369.32" x2="438.72" y2="369.32" stroke="#d63a22" stroke-width="0.35" />
<line x1="440.51" y1="367.69" x2="440.51" y2="372.71" stroke="#d63a22" stroke-width="0.35" />
<line x1="439.71" y1="367.69" x2="441.31" y2="367.69" stroke="#d63a22" stroke-width="0.35" />
<line x1="443.10" y1="365.64" x2="443.10" y2="371.78" stroke="#d63a22" stroke-width="0.35" />
<line x1="442.30" y1="365.64" x2="443.90" y2="365.64" stroke="#d63a22" stroke-width="0.35" />
<line x1="445.69" y1="363.36" x2="445.69" y2="370.58" stroke="#d63a22" stroke-width="0.35" />
<line x1="444.89" y1="363.36" x2="446.49" y2="363.36" stroke="#d63a22" stroke-width="0.35" />
<line x1="448.28" y1="361.08" x2="448.28" y2="369.18" stroke="#d63a22" stroke-width="0.35" />
<line x1="447.48" y1="361.08" x2="449.08" y2="361.08" stroke="#d63a22" stroke-width="0.35" />
<line x1="450.88" y1="358.80" x2="450.88" y2="367.55" stroke="#d63a22" stroke-width="0.35" />
<line x1="450.08" y1="358.80" x2="451.68" y2="358.80" stroke="#d63a22" stroke-width="0.35" />
<line x1="453.47" y1="356.42" x2="453.47" y2="365.99" stroke="#d63a22" stroke-width="0.35" />
<line x1="452.67" y1="356.42" x2="454.27" y2="356.42" stroke="#d63a22" stroke-width="0.35" />
<line x1="456.06" y1="353.82" x2="456.06" y2="364.58" stroke="#d63a22" stroke-width="0.35" />
<line x1="455.26" y1="353.82" x2="456.86" y2="353.82" stroke="#d63a22" stroke-width="0.35" />
<line x1="458.65" y1="351.28" x2="458.65" y2="363.27" stroke="#d63a22" stroke-width="0.35" />
<line x1="457.85" y1="351.28" x2="459.45" y2="351.28" stroke="#d63a22" stroke-width="0.35" />
<line x1="461.25" y1="349.22" x2="461.25" y2="362.62" stroke="#d63a22" stroke-width="0.35" />
<line x1="460.45" y1="349.22" x2="462.05" y2="349.22" stroke="#d63a22" stroke-width="0.35" />
<line x1="463.84" y1="347.16" x2="463.84" y2="361.96" stroke="#d63a22" stroke-width="0.35" />
<line x1="463.04" y1="347.16" x2="464.64" y2="347.16" stroke="#d63a22" stroke-width="0.35" />
<line x1="466.43" y1="345.20" x2="466.43" y2="361.00" stroke="#d63a22" stroke-width="0.35" />
<line x1="465.63" y1="345.20" x2="467.23" y2="345.20" stroke="#d63a22" stroke-width="0.35" />
<line x1="469.02" y1="343.24" x2="469.02" y2="360.02" stroke="#d63a22" stroke-width="0.35" />
<line x1="468.22" y1="343.24" x2="469.82" y2="343.24" stroke="#d63a22" stroke-width="0.35" />
<line x1="471.61" y1="341.38" x2="471.61" y2="358.88" stroke="#d63a22" stroke-width="0.35" />
<line x1="470.81" y1="341.38" x2="472.41" y2="341.38" stroke="#d63a22" stroke-width="0.35" />
<line x1="474.21" y1="339.53" x2="474.21" y2="357.68" stroke="#d63a22" stroke-width="0.35" />
<line x1="473.41" y1="339.53" x2="475.01" y2="339.53" stroke="#d63a22" stroke-width="0.35" />
<line x1="476.80" y1="337.55" x2="476.80" y2="356.62" stroke="#d63a22" stroke-width="0.35" />
<line x1="476.00" y1="337.55" x2="477.60" y2="337.55" stroke="#d63a22" stroke-width="0.35" />
<line x1="479.39" y1="335.49" x2="479.39" y2="355.64" stroke="#d63a22" stroke-width="0.35" />
<line x1="478.59" y1="335.49" x2="480.19" y2="335.49" stroke="#d63a22" stroke-width="0.35" />
<line x1="481.98" y1="333.52" x2="481.98" y2="354.62" stroke="#d63a22" stroke-width="0.35" />
<line x1="481.18" y1="333.52" x2="482.78" y2="333.52" stroke="#d63a22" stroke-width="0.35" />
<line x1="484.57" y1="331.68" x2="484.57" y2="353.53" stroke="#d63a22" stroke-width="0.35" />
<line x1="483.77" y1="331.68" x2="485.37" y2="331.68" stroke="#d63a22" stroke-width="0.35" />
<path d="M407.60,373.50 L430.14,373.50" stroke="#d22f1c" stroke-width="1.5" fill="none" stroke-linejoin="round" stroke-linecap="round" stroke-linecap="butt"/>
<path d="M430.14,373.42 L431.08,372.86 L432.02,372.41 L432.96,373.33 L433.90,372.25 L434.84,372.48 L435.78,372.64 L436.71,372.08 L437.65,371.45 L438.59,371.40 L439.53,371.14 L440.47,371.14 L441.41,369.88 L442.35,370.01 L443.29,369.06 L444.23,368.59 L445.17,368.77 L446.11,367.89 L447.05,367.45 L447.98,366.82 L448.92,366.13 L449.86,364.57 L450.80,363.90 L451.74,362.85 L452.68,361.95 L453.62,361.42 L454.56,360.30 L455.50,359.62 L456.44,358.76 L457.38,358.62 L458.31,357.49 L459.25,357.39 L460.19,357.13 L461.13,355.82 L462.07,355.88 L463.01,356.07 L463.95,355.57 L464.89,354.11 L465.83,353.62 L466.77,353.59 L467.71,352.61 L468.65,352.37 L469.59,351.66 L470.52,351.99 L471.46,351.63 L472.40,351.28 L473.34,349.73 L474.28,350.01 L475.22,349.42 L476.16,348.18 L477.10,348.71 L478.04,348.31 L478.98,346.75 L479.92,347.27 L480.86,345.98 L481.79,345.48 L482.73,345.55 L483.67,344.70 L484.61,343.13 L485.55,342.88 L486.49,342.35" stroke="#d22f1c" stroke-width="1.5" fill="none" stroke-linejoin="round" stroke-linecap="round" />
<path d="M441.41,373.03 L452.68,369.96 L463.95,368.31 L475.22,366.89 L486.49,365.95 L486.49,368.54 L475.22,369.49 L463.95,370.67 L452.68,372.08 L441.41,373.50Z" fill="#9a9a9a" stroke="#333" stroke-width="0.4"/>
<line x1="444.11" y1="372.29" x2="444.11" y2="373.16" stroke="#333" stroke-width="0.35" />
<line x1="443.31" y1="372.29" x2="444.91" y2="372.29" stroke="#333" stroke-width="0.35" />
<line x1="445.47" y1="371.92" x2="445.47" y2="372.99" stroke="#333" stroke-width="0.35" />
<line x1="444.67" y1="371.92" x2="446.27" y2="371.92" stroke="#333" stroke-width="0.35" />
<line x1="446.82" y1="371.56" x2="446.82" y2="372.82" stroke="#333" stroke-width="0.35" />
<line x1="446.02" y1="371.56" x2="447.62" y2="371.56" stroke="#333" stroke-width="0.35" />
<line x1="448.17" y1="371.19" x2="448.17" y2="372.65" stroke="#333" stroke-width="0.35" />
<line x1="447.37" y1="371.19" x2="448.97" y2="371.19" stroke="#333" stroke-width="0.35" />
<line x1="449.52" y1="370.82" x2="449.52" y2="372.48" stroke="#333" stroke-width="0.35" />
<line x1="448.72" y1="370.82" x2="450.32" y2="370.82" stroke="#333" stroke-width="0.35" />
<line x1="450.88" y1="370.45" x2="450.88" y2="372.31" stroke="#333" stroke-width="0.35" />
<line x1="450.08" y1="370.45" x2="451.68" y2="370.45" stroke="#333" stroke-width="0.35" />
<line x1="452.23" y1="370.08" x2="452.23" y2="372.14" stroke="#333" stroke-width="0.35" />
<line x1="451.43" y1="370.08" x2="453.03" y2="370.08" stroke="#333" stroke-width="0.35" />
<line x1="453.58" y1="369.83" x2="453.58" y2="371.97" stroke="#333" stroke-width="0.35" />
<line x1="452.78" y1="369.83" x2="454.38" y2="369.83" stroke="#333" stroke-width="0.35" />
<line x1="454.93" y1="369.63" x2="454.93" y2="371.80" stroke="#333" stroke-width="0.35" />
<line x1="454.13" y1="369.63" x2="455.73" y2="369.63" stroke="#333" stroke-width="0.35" />
<line x1="456.29" y1="369.43" x2="456.29" y2="371.63" stroke="#333" stroke-width="0.35" />
<line x1="455.49" y1="369.43" x2="457.09" y2="369.43" stroke="#333" stroke-width="0.35" />
<line x1="457.64" y1="369.23" x2="457.64" y2="371.46" stroke="#333" stroke-width="0.35" />
<line x1="456.84" y1="369.23" x2="458.44" y2="369.23" stroke="#333" stroke-width="0.35" />
<line x1="458.99" y1="369.03" x2="458.99" y2="371.29" stroke="#333" stroke-width="0.35" />
<line x1="458.19" y1="369.03" x2="459.79" y2="369.03" stroke="#333" stroke-width="0.35" />
<line x1="460.34" y1="368.84" x2="460.34" y2="371.12" stroke="#333" stroke-width="0.35" />
<line x1="459.54" y1="368.84" x2="461.14" y2="368.84" stroke="#333" stroke-width="0.35" />
<line x1="461.70" y1="368.64" x2="461.70" y2="370.95" stroke="#333" stroke-width="0.35" />
<line x1="460.90" y1="368.64" x2="462.50" y2="368.64" stroke="#333" stroke-width="0.35" />
<line x1="463.05" y1="368.44" x2="463.05" y2="370.78" stroke="#333" stroke-width="0.35" />
<line x1="462.25" y1="368.44" x2="463.85" y2="368.44" stroke="#333" stroke-width="0.35" />
<line x1="464.40" y1="368.25" x2="464.40" y2="370.62" stroke="#333" stroke-width="0.35" />
<line x1="463.60" y1="368.25" x2="465.20" y2="368.25" stroke="#333" stroke-width="0.35" />
<line x1="465.75" y1="368.08" x2="465.75" y2="370.48" stroke="#333" stroke-width="0.35" />
<line x1="464.95" y1="368.08" x2="466.55" y2="368.08" stroke="#333" stroke-width="0.35" />
<line x1="467.11" y1="367.91" x2="467.11" y2="370.34" stroke="#333" stroke-width="0.35" />
<line x1="466.31" y1="367.91" x2="467.91" y2="367.91" stroke="#333" stroke-width="0.35" />
<line x1="468.46" y1="367.74" x2="468.46" y2="370.20" stroke="#333" stroke-width="0.35" />
<line x1="467.66" y1="367.74" x2="469.26" y2="367.74" stroke="#333" stroke-width="0.35" />
<line x1="469.81" y1="367.57" x2="469.81" y2="370.05" stroke="#333" stroke-width="0.35" />
<line x1="469.01" y1="367.57" x2="470.61" y2="367.57" stroke="#333" stroke-width="0.35" />
<line x1="471.16" y1="367.40" x2="471.16" y2="369.91" stroke="#333" stroke-width="0.35" />
<line x1="470.36" y1="367.40" x2="471.96" y2="367.40" stroke="#333" stroke-width="0.35" />
<line x1="472.52" y1="367.23" x2="472.52" y2="369.77" stroke="#333" stroke-width="0.35" />
<line x1="471.72" y1="367.23" x2="473.32" y2="367.23" stroke="#333" stroke-width="0.35" />
<line x1="473.87" y1="367.06" x2="473.87" y2="369.63" stroke="#333" stroke-width="0.35" />
<line x1="473.07" y1="367.06" x2="474.67" y2="367.06" stroke="#333" stroke-width="0.35" />
<line x1="475.22" y1="366.89" x2="475.22" y2="369.49" stroke="#333" stroke-width="0.35" />
<line x1="474.42" y1="366.89" x2="476.02" y2="366.89" stroke="#333" stroke-width="0.35" />
<line x1="476.57" y1="366.78" x2="476.57" y2="369.37" stroke="#333" stroke-width="0.35" />
<line x1="475.77" y1="366.78" x2="477.37" y2="366.78" stroke="#333" stroke-width="0.35" />
<line x1="477.92" y1="366.67" x2="477.92" y2="369.26" stroke="#333" stroke-width="0.35" />
<line x1="477.12" y1="366.67" x2="478.72" y2="366.67" stroke="#333" stroke-width="0.35" />
<line x1="479.28" y1="366.55" x2="479.28" y2="369.15" stroke="#333" stroke-width="0.35" />
<line x1="478.48" y1="366.55" x2="480.08" y2="366.55" stroke="#333" stroke-width="0.35" />
<line x1="480.63" y1="366.44" x2="480.63" y2="369.03" stroke="#333" stroke-width="0.35" />
<line x1="479.83" y1="366.44" x2="481.43" y2="366.44" stroke="#333" stroke-width="0.35" />
<line x1="481.98" y1="366.33" x2="481.98" y2="368.92" stroke="#333" stroke-width="0.35" />
<line x1="481.18" y1="366.33" x2="482.78" y2="366.33" stroke="#333" stroke-width="0.35" />
<line x1="483.33" y1="366.21" x2="483.33" y2="368.81" stroke="#333" stroke-width="0.35" />
<line x1="482.53" y1="366.21" x2="484.13" y2="366.21" stroke="#333" stroke-width="0.35" />
<line x1="484.69" y1="366.10" x2="484.69" y2="368.70" stroke="#333" stroke-width="0.35" />
<line x1="483.89" y1="366.10" x2="485.49" y2="366.10" stroke="#333" stroke-width="0.35" />
<line x1="486.04" y1="365.99" x2="486.04" y2="368.58" stroke="#333" stroke-width="0.35" />
<line x1="485.24" y1="365.99" x2="486.84" y2="365.99" stroke="#333" stroke-width="0.35" />
<path d="M440.28,373.50 L441.41,373.50" stroke="#111" stroke-width="1.8" fill="none" stroke-linejoin="round" stroke-linecap="round" stroke-linecap="butt"/>
<path d="M441.41,373.52 L442.35,373.09 L443.29,372.71 L444.23,372.67 L445.17,373.00 L446.11,371.89 L447.05,372.39 L447.98,372.05 L448.92,371.30 L449.86,371.51 L450.80,371.69 L451.74,371.35 L452.68,370.57 L453.62,371.65 L454.56,371.28 L455.50,371.40 L456.44,370.15 L457.38,370.25 L458.31,369.83 L459.25,370.64 L460.19,369.82 L461.13,369.48 L462.07,369.70 L463.01,370.18 L463.95,369.90 L464.89,369.06 L465.83,368.80 L466.77,369.68 L467.71,369.11 L468.65,369.16 L469.59,368.25 L470.52,368.13 L471.46,368.87 L472.40,368.45 L473.34,367.91 L474.28,368.96 L475.22,368.48 L476.16,368.62 L477.10,367.61 L478.04,368.54 L478.98,367.43 L479.92,368.39 L480.86,367.78 L481.79,367.51 L482.73,367.67 L483.67,368.04 L484.61,367.06 L485.55,366.76 L486.49,367.13" stroke="#111" stroke-width="1.8" fill="none" stroke-linejoin="round" stroke-linecap="round" />
<text x="447.30" y="393.14" font-size="9" text-anchor="middle" fill="#3d3d3d" textLength="29.50" lengthAdjust="spacingAndGlyphs" stroke="#3d3d3d" style="stroke-width:0.35px">Time (sec)</text>
<text x="0" y="2.74" font-size="7.6" text-anchor="middle" fill="#555" textLength="50.00" lengthAdjust="spacingAndGlyphs" transform="translate(381.80 349.10) rotate(-90)">Platelet adhesion</text>
<text x="0" y="2.74" font-size="7.6" text-anchor="middle" fill="#555" textLength="52.00" lengthAdjust="spacingAndGlyphs" transform="translate(390.90 348.90) rotate(-90)">(% area covered)</text>
<line x1="413.20" y1="332.30" x2="419.00" y2="332.30" stroke="#111" stroke-width="1.3" />
<path d="M414.2,331.2 L418,331.2 L416.1,333.6 Z" fill="#111"/>
<text x="420.40" y="334.39" font-size="5.8" text-anchor="start" fill="#111" stroke="#111" font-family='"Liberation Serif", serif' textLength="10.40" lengthAdjust="spacingAndGlyphs" >PBS</text>
<line x1="413.20" y1="338.30" x2="419.00" y2="338.30" stroke="#e0503a" stroke-width="0.8" />
<circle cx="416.1" cy="338.3" r="1.1" fill="#d22f1c"/>
<text x="420.40" y="340.39" font-size="5.8" text-anchor="start" fill="#5a2018" stroke="#5a2018" font-family='"Liberation Serif", serif' textLength="16.20" lengthAdjust="spacingAndGlyphs" >OxLDL</text>
<path d="M489.80,342.80 L494.00,342.80 L494.00,367.70 L489.80,367.70" stroke="#111" stroke-width="1.1" fill="none" stroke-linejoin="round" stroke-linecap="round" stroke-linecap="butt"/>
<text x="496.40" y="357.23" font-size="5.5" text-anchor="start" fill="#111" stroke="#111" >p&lt;0.01</text>
<text x="448.5" y="406.3" font-size="7.4" text-anchor="middle" fill="#222" stroke="#222">CD36-null</text>
<line x1="407.60" y1="407.30" x2="407.60" y2="457.70" stroke="#111" stroke-width="1.2" />
<line x1="407.10" y1="457.20" x2="488.00" y2="457.20" stroke="#111" stroke-width="1.2" />
<line x1="405.30" y1="457.20" x2="407.60" y2="457.20" stroke="#111" stroke-width="0.9" />
<text x="403.40" y="459.25" font-size="5.7" text-anchor="end" fill="#111" stroke="#111" >0</text>
<line x1="405.30" y1="445.27" x2="407.60" y2="445.27" stroke="#111" stroke-width="0.9" />
<text x="403.40" y="447.32" font-size="5.7" text-anchor="end" fill="#111" stroke="#111" >5</text>
<line x1="405.30" y1="433.34" x2="407.60" y2="433.34" stroke="#111" stroke-width="0.9" />
<text x="403.40" y="435.39" font-size="5.7" text-anchor="end" fill="#111" stroke="#111" >10</text>
<line x1="405.30" y1="421.41" x2="407.60" y2="421.41" stroke="#111" stroke-width="0.9" />
<text x="403.40" y="423.46" font-size="5.7" text-anchor="end" fill="#111" stroke="#111" >15</text>
<line x1="405.30" y1="409.48" x2="407.60" y2="409.48" stroke="#111" stroke-width="0.9" />
<text x="403.40" y="411.53" font-size="5.7" text-anchor="end" fill="#111" stroke="#111" >20</text>
<line x1="407.60" y1="457.20" x2="407.60" y2="459.50" stroke="#111" stroke-width="0.9" />
<text x="407.60" y="466.52" font-size="5.6" text-anchor="middle" fill="#111" stroke="#111" >0</text>
<line x1="418.87" y1="457.20" x2="418.87" y2="459.50" stroke="#111" stroke-width="0.9" />
<text x="418.87" y="466.52" font-size="5.6" text-anchor="middle" fill="#111" stroke="#111" >10</text>
<line x1="430.14" y1="457.20" x2="430.14" y2="459.50" stroke="#111" stroke-width="0.9" />
<text x="430.14" y="466.52" font-size="5.6" text-anchor="middle" fill="#111" stroke="#111" >20</text>
<line x1="441.41" y1="457.20" x2="441.41" y2="459.50" stroke="#111" stroke-width="0.9" />
<text x="441.41" y="466.52" font-size="5.6" text-anchor="middle" fill="#111" stroke="#111" >30</text>
<line x1="452.68" y1="457.20" x2="452.68" y2="459.50" stroke="#111" stroke-width="0.9" />
<text x="452.68" y="466.52" font-size="5.6" text-anchor="middle" fill="#111" stroke="#111" >40</text>
<line x1="463.95" y1="457.20" x2="463.95" y2="459.50" stroke="#111" stroke-width="0.9" />
<text x="463.95" y="466.52" font-size="5.6" text-anchor="middle" fill="#111" stroke="#111" >50</text>
<line x1="475.22" y1="457.20" x2="475.22" y2="459.50" stroke="#111" stroke-width="0.9" />
<text x="475.22" y="466.52" font-size="5.6" text-anchor="middle" fill="#111" stroke="#111" >60</text>
<line x1="486.49" y1="457.20" x2="486.49" y2="459.50" stroke="#111" stroke-width="0.9" />
<text x="486.49" y="466.52" font-size="5.6" text-anchor="middle" fill="#111" stroke="#111" >70</text>
<path d="M430.14,457.20 L432.39,451.95 L434.65,449.33 L439.16,449.56 L442.54,451.47 L447.05,453.62 L452.68,454.10 L463.95,452.19 L475.22,448.61 L486.49,444.32 L486.49,449.09 L475.22,452.19 L463.95,455.05 L452.68,456.48 L447.05,456.01 L442.54,454.34 L439.16,452.91 L434.65,452.67 L432.39,455.05 L430.14,457.20Z" fill="#9a9a9a" stroke="#333" stroke-width="0.4"/>
<line x1="431.49" y1="454.05" x2="431.49" y2="455.91" stroke="#333" stroke-width="0.35" />
<line x1="430.69" y1="454.05" x2="432.29" y2="454.05" stroke="#333" stroke-width="0.35" />
<line x1="432.84" y1="451.43" x2="432.84" y2="454.58" stroke="#333" stroke-width="0.35" />
<line x1="432.04" y1="451.43" x2="433.64" y2="451.43" stroke="#333" stroke-width="0.35" />
<line x1="434.20" y1="449.85" x2="434.20" y2="453.14" stroke="#333" stroke-width="0.35" />
<line x1="433.40" y1="449.85" x2="435.00" y2="449.85" stroke="#333" stroke-width="0.35" />
<line x1="435.55" y1="449.37" x2="435.55" y2="452.71" stroke="#333" stroke-width="0.35" />
<line x1="434.75" y1="449.37" x2="436.35" y2="449.37" stroke="#333" stroke-width="0.35" />
<line x1="436.90" y1="449.45" x2="436.90" y2="452.79" stroke="#333" stroke-width="0.35" />
<line x1="436.10" y1="449.45" x2="437.70" y2="449.45" stroke="#333" stroke-width="0.35" />
<line x1="438.25" y1="449.52" x2="438.25" y2="452.86" stroke="#333" stroke-width="0.35" />
<line x1="437.45" y1="449.52" x2="439.05" y2="449.52" stroke="#333" stroke-width="0.35" />
<line x1="439.61" y1="449.82" x2="439.61" y2="453.10" stroke="#333" stroke-width="0.35" />
<line x1="438.81" y1="449.82" x2="440.41" y2="449.82" stroke="#333" stroke-width="0.35" />
<line x1="440.96" y1="450.58" x2="440.96" y2="453.67" stroke="#333" stroke-width="0.35" />
<line x1="440.16" y1="450.58" x2="441.76" y2="450.58" stroke="#333" stroke-width="0.35" />
<line x1="442.31" y1="451.35" x2="442.31" y2="454.24" stroke="#333" stroke-width="0.35" />
<line x1="441.51" y1="451.35" x2="443.11" y2="451.35" stroke="#333" stroke-width="0.35" />
<line x1="443.66" y1="452.01" x2="443.66" y2="454.75" stroke="#333" stroke-width="0.35" />
<line x1="442.86" y1="452.01" x2="444.46" y2="452.01" stroke="#333" stroke-width="0.35" />
<line x1="445.02" y1="452.65" x2="445.02" y2="455.26" stroke="#333" stroke-width="0.35" />
<line x1="444.22" y1="452.65" x2="445.82" y2="452.65" stroke="#333" stroke-width="0.35" />
<line x1="446.37" y1="453.30" x2="446.37" y2="455.76" stroke="#333" stroke-width="0.35" />
<line x1="445.57" y1="453.30" x2="447.17" y2="453.30" stroke="#333" stroke-width="0.35" />
<line x1="447.72" y1="453.68" x2="447.72" y2="456.06" stroke="#333" stroke-width="0.35" />
<line x1="446.92" y1="453.68" x2="448.52" y2="453.68" stroke="#333" stroke-width="0.35" />
<line x1="449.07" y1="453.79" x2="449.07" y2="456.18" stroke="#333" stroke-width="0.35" />
<line x1="448.27" y1="453.79" x2="449.87" y2="453.79" stroke="#333" stroke-width="0.35" />
<line x1="450.43" y1="453.91" x2="450.43" y2="456.29" stroke="#333" stroke-width="0.35" />
<line x1="449.63" y1="453.91" x2="451.23" y2="453.91" stroke="#333" stroke-width="0.35" />
<line x1="451.78" y1="454.02" x2="451.78" y2="456.41" stroke="#333" stroke-width="0.35" />
<line x1="450.98" y1="454.02" x2="452.58" y2="454.02" stroke="#333" stroke-width="0.35" />
<line x1="453.13" y1="454.02" x2="453.13" y2="456.43" stroke="#333" stroke-width="0.35" />
<line x1="452.33" y1="454.02" x2="453.93" y2="454.02" stroke="#333" stroke-width="0.35" />
<line x1="454.48" y1="453.79" x2="454.48" y2="456.26" stroke="#333" stroke-width="0.35" />
<line x1="453.68" y1="453.79" x2="455.28" y2="453.79" stroke="#333" stroke-width="0.35" />
<line x1="455.84" y1="453.56" x2="455.84" y2="456.08" stroke="#333" stroke-width="0.35" />
<line x1="455.04" y1="453.56" x2="456.64" y2="453.56" stroke="#333" stroke-width="0.35" />
<line x1="457.19" y1="453.33" x2="457.19" y2="455.91" stroke="#333" stroke-width="0.35" />
<line x1="456.39" y1="453.33" x2="457.99" y2="453.33" stroke="#333" stroke-width="0.35" />
<line x1="458.54" y1="453.11" x2="458.54" y2="455.74" stroke="#333" stroke-width="0.35" />
<line x1="457.74" y1="453.11" x2="459.34" y2="453.11" stroke="#333" stroke-width="0.35" />
<line x1="459.89" y1="452.88" x2="459.89" y2="455.57" stroke="#333" stroke-width="0.35" />
<line x1="459.09" y1="452.88" x2="460.69" y2="452.88" stroke="#333" stroke-width="0.35" />
<line x1="461.25" y1="452.65" x2="461.25" y2="455.40" stroke="#333" stroke-width="0.35" />
<line x1="460.45" y1="452.65" x2="462.05" y2="452.65" stroke="#333" stroke-width="0.35" />
<line x1="462.60" y1="452.42" x2="462.60" y2="455.22" stroke="#333" stroke-width="0.35" />
<line x1="461.80" y1="452.42" x2="463.40" y2="452.42" stroke="#333" stroke-width="0.35" />
<line x1="463.95" y1="452.19" x2="463.95" y2="455.05" stroke="#333" stroke-width="0.35" />
<line x1="463.15" y1="452.19" x2="464.75" y2="452.19" stroke="#333" stroke-width="0.35" />
<line x1="465.30" y1="451.76" x2="465.30" y2="454.71" stroke="#333" stroke-width="0.35" />
<line x1="464.50" y1="451.76" x2="466.10" y2="451.76" stroke="#333" stroke-width="0.35" />
<line x1="466.65" y1="451.33" x2="466.65" y2="454.37" stroke="#333" stroke-width="0.35" />
<line x1="465.85" y1="451.33" x2="467.45" y2="451.33" stroke="#333" stroke-width="0.35" />
<line x1="468.01" y1="450.90" x2="468.01" y2="454.02" stroke="#333" stroke-width="0.35" />
<line x1="467.21" y1="450.90" x2="468.81" y2="450.90" stroke="#333" stroke-width="0.35" />
<line x1="469.36" y1="450.47" x2="469.36" y2="453.68" stroke="#333" stroke-width="0.35" />
<line x1="468.56" y1="450.47" x2="470.16" y2="450.47" stroke="#333" stroke-width="0.35" />
<line x1="470.71" y1="450.04" x2="470.71" y2="453.33" stroke="#333" stroke-width="0.35" />
<line x1="469.91" y1="450.04" x2="471.51" y2="450.04" stroke="#333" stroke-width="0.35" />
<line x1="472.06" y1="449.61" x2="472.06" y2="452.99" stroke="#333" stroke-width="0.35" />
<line x1="471.26" y1="449.61" x2="472.86" y2="449.61" stroke="#333" stroke-width="0.35" />
<line x1="473.42" y1="449.18" x2="473.42" y2="452.65" stroke="#333" stroke-width="0.35" />
<line x1="472.62" y1="449.18" x2="474.22" y2="449.18" stroke="#333" stroke-width="0.35" />
<line x1="474.77" y1="448.75" x2="474.77" y2="452.30" stroke="#333" stroke-width="0.35" />
<line x1="473.97" y1="448.75" x2="475.57" y2="448.75" stroke="#333" stroke-width="0.35" />
<line x1="476.12" y1="448.27" x2="476.12" y2="451.94" stroke="#333" stroke-width="0.35" />
<line x1="475.32" y1="448.27" x2="476.92" y2="448.27" stroke="#333" stroke-width="0.35" />
<line x1="477.47" y1="447.75" x2="477.47" y2="451.57" stroke="#333" stroke-width="0.35" />
<line x1="476.67" y1="447.75" x2="478.27" y2="447.75" stroke="#333" stroke-width="0.35" />
<line x1="478.83" y1="447.24" x2="478.83" y2="451.20" stroke="#333" stroke-width="0.35" />
<line x1="478.03" y1="447.24" x2="479.63" y2="447.24" stroke="#333" stroke-width="0.35" />
<line x1="480.18" y1="446.72" x2="480.18" y2="450.82" stroke="#333" stroke-width="0.35" />
<line x1="479.38" y1="446.72" x2="480.98" y2="446.72" stroke="#333" stroke-width="0.35" />
<line x1="481.53" y1="446.21" x2="481.53" y2="450.45" stroke="#333" stroke-width="0.35" />
<line x1="480.73" y1="446.21" x2="482.33" y2="446.21" stroke="#333" stroke-width="0.35" />
<line x1="482.88" y1="445.69" x2="482.88" y2="450.08" stroke="#333" stroke-width="0.35" />
<line x1="482.08" y1="445.69" x2="483.68" y2="445.69" stroke="#333" stroke-width="0.35" />
<line x1="484.24" y1="445.17" x2="484.24" y2="449.71" stroke="#333" stroke-width="0.35" />
<line x1="483.44" y1="445.17" x2="485.04" y2="445.17" stroke="#333" stroke-width="0.35" />
<line x1="485.59" y1="444.66" x2="485.59" y2="449.34" stroke="#333" stroke-width="0.35" />
<line x1="484.79" y1="444.66" x2="486.39" y2="444.66" stroke="#333" stroke-width="0.35" />
<path d="M407.60,457.20 L430.14,457.20" stroke="#111" stroke-width="1.8" fill="none" stroke-linejoin="round" stroke-linecap="round" stroke-linecap="butt"/>
<path d="M430.14,457.22 L431.27,455.25 L432.39,453.39 L433.52,452.11 L434.65,450.73 L435.55,450.87 L436.45,450.98 L437.35,451.02 L438.25,451.34 L439.16,451.11 L440.28,451.79 L441.41,452.16 L442.54,452.81 L443.44,453.00 L444.34,453.52 L445.24,453.76 L446.14,454.57 L447.05,454.84 L447.98,454.71 L448.92,454.96 L449.86,455.31 L450.80,454.90 L451.74,455.40 L452.68,455.25 L453.62,455.21 L454.56,455.33 L455.50,454.99 L456.44,454.98 L457.38,455.01 L458.31,455.10 L459.25,454.52 L460.19,454.62 L461.13,454.34 L462.07,454.10 L463.01,453.76 L463.95,453.53 L464.89,453.12 L465.83,452.92 L466.77,452.65 L467.71,452.81 L468.65,452.28 L469.59,451.99 L470.52,451.62 L471.46,451.76 L472.40,451.46 L473.34,451.02 L474.28,450.47 L475.22,450.13 L476.16,449.84 L477.10,449.62 L478.04,449.12 L478.98,448.98 L479.92,448.55 L480.86,448.65 L481.79,448.30 L482.73,447.68 L483.67,447.14 L484.61,447.22 L485.55,446.47 L486.49,446.22" stroke="#111" stroke-width="1.8" fill="none" stroke-linejoin="round" stroke-linecap="round" />
<path d="M430.14,457.20 L432.39,452.91 L434.65,450.52 L439.16,451.00 L442.54,451.95 L447.05,452.43 L452.68,450.28 L458.31,447.42 L463.95,444.55 L469.59,441.93 L475.22,438.83 L480.86,435.25 L484.24,429.05 L486.49,431.91 L486.49,442.17 L480.86,445.27 L475.22,448.13 L469.59,450.28 L463.95,451.71 L458.31,453.14 L452.68,454.34 L447.05,455.29 L442.54,454.81 L439.16,454.10 L434.65,453.86 L432.39,455.77 L430.14,457.20Z" fill="#f3b3a2" stroke="#d63a22" stroke-width="0.4"/>
<line x1="431.83" y1="453.98" x2="431.83" y2="456.13" stroke="#d63a22" stroke-width="0.35" />
<line x1="431.03" y1="453.98" x2="432.63" y2="453.98" stroke="#d63a22" stroke-width="0.35" />
<line x1="433.52" y1="451.71" x2="433.52" y2="454.81" stroke="#d63a22" stroke-width="0.35" />
<line x1="432.72" y1="451.71" x2="434.32" y2="451.71" stroke="#d63a22" stroke-width="0.35" />
<line x1="435.21" y1="450.58" x2="435.21" y2="453.89" stroke="#d63a22" stroke-width="0.35" />
<line x1="434.41" y1="450.58" x2="436.01" y2="450.58" stroke="#d63a22" stroke-width="0.35" />
<line x1="436.90" y1="450.76" x2="436.90" y2="453.98" stroke="#d63a22" stroke-width="0.35" />
<line x1="436.10" y1="450.76" x2="437.70" y2="450.76" stroke="#d63a22" stroke-width="0.35" />
<line x1="438.59" y1="450.94" x2="438.59" y2="454.07" stroke="#d63a22" stroke-width="0.35" />
<line x1="437.79" y1="450.94" x2="439.39" y2="450.94" stroke="#d63a22" stroke-width="0.35" />
<line x1="440.28" y1="451.31" x2="440.28" y2="454.34" stroke="#d63a22" stroke-width="0.35" />
<line x1="439.48" y1="451.31" x2="441.08" y2="451.31" stroke="#d63a22" stroke-width="0.35" />
<line x1="441.97" y1="451.79" x2="441.97" y2="454.69" stroke="#d63a22" stroke-width="0.35" />
<line x1="441.17" y1="451.79" x2="442.77" y2="451.79" stroke="#d63a22" stroke-width="0.35" />
<line x1="443.66" y1="452.07" x2="443.66" y2="454.93" stroke="#d63a22" stroke-width="0.35" />
<line x1="442.86" y1="452.07" x2="444.46" y2="452.07" stroke="#d63a22" stroke-width="0.35" />
<line x1="445.35" y1="452.25" x2="445.35" y2="455.11" stroke="#d63a22" stroke-width="0.35" />
<line x1="444.55" y1="452.25" x2="446.15" y2="452.25" stroke="#d63a22" stroke-width="0.35" />
<line x1="447.05" y1="452.43" x2="447.05" y2="455.29" stroke="#d63a22" stroke-width="0.35" />
<line x1="446.25" y1="452.43" x2="447.85" y2="452.43" stroke="#d63a22" stroke-width="0.35" />
<line x1="448.74" y1="451.78" x2="448.74" y2="455.00" stroke="#d63a22" stroke-width="0.35" />
<line x1="447.94" y1="451.78" x2="449.54" y2="451.78" stroke="#d63a22" stroke-width="0.35" />
<line x1="450.43" y1="451.14" x2="450.43" y2="454.72" stroke="#d63a22" stroke-width="0.35" />
<line x1="449.63" y1="451.14" x2="451.23" y2="451.14" stroke="#d63a22" stroke-width="0.35" />
<line x1="452.12" y1="450.50" x2="452.12" y2="454.43" stroke="#d63a22" stroke-width="0.35" />
<line x1="451.32" y1="450.50" x2="452.92" y2="450.50" stroke="#d63a22" stroke-width="0.35" />
<line x1="453.81" y1="449.71" x2="453.81" y2="454.10" stroke="#d63a22" stroke-width="0.35" />
<line x1="453.01" y1="449.71" x2="454.61" y2="449.71" stroke="#d63a22" stroke-width="0.35" />
<line x1="455.50" y1="448.85" x2="455.50" y2="453.74" stroke="#d63a22" stroke-width="0.35" />
<line x1="454.70" y1="448.85" x2="456.30" y2="448.85" stroke="#d63a22" stroke-width="0.35" />
<line x1="457.19" y1="447.99" x2="457.19" y2="453.38" stroke="#d63a22" stroke-width="0.35" />
<line x1="456.39" y1="447.99" x2="457.99" y2="447.99" stroke="#d63a22" stroke-width="0.35" />
<line x1="458.88" y1="447.13" x2="458.88" y2="453.00" stroke="#d63a22" stroke-width="0.35" />
<line x1="458.08" y1="447.13" x2="459.68" y2="447.13" stroke="#d63a22" stroke-width="0.35" />
<line x1="460.57" y1="446.27" x2="460.57" y2="452.57" stroke="#d63a22" stroke-width="0.35" />
<line x1="459.77" y1="446.27" x2="461.37" y2="446.27" stroke="#d63a22" stroke-width="0.35" />
<line x1="462.26" y1="445.41" x2="462.26" y2="452.14" stroke="#d63a22" stroke-width="0.35" />
<line x1="461.46" y1="445.41" x2="463.06" y2="445.41" stroke="#d63a22" stroke-width="0.35" />
<line x1="463.95" y1="444.55" x2="463.95" y2="451.71" stroke="#d63a22" stroke-width="0.35" />
<line x1="463.15" y1="444.55" x2="464.75" y2="444.55" stroke="#d63a22" stroke-width="0.35" />
<line x1="465.64" y1="443.77" x2="465.64" y2="451.28" stroke="#d63a22" stroke-width="0.35" />
<line x1="464.84" y1="443.77" x2="466.44" y2="443.77" stroke="#d63a22" stroke-width="0.35" />
<line x1="467.33" y1="442.98" x2="467.33" y2="450.85" stroke="#d63a22" stroke-width="0.35" />
<line x1="466.53" y1="442.98" x2="468.13" y2="442.98" stroke="#d63a22" stroke-width="0.35" />
<line x1="469.02" y1="442.19" x2="469.02" y2="450.42" stroke="#d63a22" stroke-width="0.35" />
<line x1="468.22" y1="442.19" x2="469.82" y2="442.19" stroke="#d63a22" stroke-width="0.35" />
<line x1="470.71" y1="441.31" x2="470.71" y2="449.85" stroke="#d63a22" stroke-width="0.35" />
<line x1="469.91" y1="441.31" x2="471.51" y2="441.31" stroke="#d63a22" stroke-width="0.35" />
<line x1="472.40" y1="440.38" x2="472.40" y2="449.21" stroke="#d63a22" stroke-width="0.35" />
<line x1="471.60" y1="440.38" x2="473.20" y2="440.38" stroke="#d63a22" stroke-width="0.35" />
<line x1="474.09" y1="439.45" x2="474.09" y2="448.56" stroke="#d63a22" stroke-width="0.35" />
<line x1="473.29" y1="439.45" x2="474.89" y2="439.45" stroke="#d63a22" stroke-width="0.35" />
<line x1="475.78" y1="438.47" x2="475.78" y2="447.85" stroke="#d63a22" stroke-width="0.35" />
<line x1="474.98" y1="438.47" x2="476.58" y2="438.47" stroke="#d63a22" stroke-width="0.35" />
<line x1="477.47" y1="437.40" x2="477.47" y2="446.99" stroke="#d63a22" stroke-width="0.35" />
<line x1="476.67" y1="437.40" x2="478.27" y2="437.40" stroke="#d63a22" stroke-width="0.35" />
<line x1="479.16" y1="436.32" x2="479.16" y2="446.13" stroke="#d63a22" stroke-width="0.35" />
<line x1="478.36" y1="436.32" x2="479.96" y2="436.32" stroke="#d63a22" stroke-width="0.35" />
<line x1="480.86" y1="435.25" x2="480.86" y2="445.27" stroke="#d63a22" stroke-width="0.35" />
<line x1="480.06" y1="435.25" x2="481.66" y2="435.25" stroke="#d63a22" stroke-width="0.35" />
<line x1="482.55" y1="432.15" x2="482.55" y2="444.34" stroke="#d63a22" stroke-width="0.35" />
<line x1="481.75" y1="432.15" x2="483.35" y2="432.15" stroke="#d63a22" stroke-width="0.35" />
<line x1="484.24" y1="429.05" x2="484.24" y2="443.41" stroke="#d63a22" stroke-width="0.35" />
<line x1="483.44" y1="429.05" x2="485.04" y2="429.05" stroke="#d63a22" stroke-width="0.35" />
<line x1="485.93" y1="431.19" x2="485.93" y2="442.48" stroke="#d63a22" stroke-width="0.35" />
<line x1="485.13" y1="431.19" x2="486.73" y2="431.19" stroke="#d63a22" stroke-width="0.35" />
<path d="M429.01,457.20 L430.14,457.20" stroke="#d22f1c" stroke-width="1.5" fill="none" stroke-linejoin="round" stroke-linecap="round" stroke-linecap="butt"/>
<path d="M430.14,457.10 L431.27,455.42 L432.39,454.25 L433.52,453.25 L434.65,452.19 L435.55,452.03 L436.45,452.29 L437.35,451.99 L438.25,452.22 L439.16,452.14 L440.28,452.68 L441.41,452.74 L442.54,453.05 L443.44,453.34 L444.34,453.39 L445.24,453.73 L446.14,453.78 L447.05,454.03 L447.98,453.69 L448.92,453.45 L449.86,453.29 L450.80,452.67 L451.74,452.35 L452.68,452.53 L453.62,451.63 L454.56,451.71 L455.50,451.34 L456.44,450.60 L457.38,450.83 L458.31,450.55 L459.25,450.05 L460.19,449.81 L461.13,449.54 L462.07,448.76 L463.01,448.71 L463.95,448.37 L464.89,448.25 L465.83,447.87 L466.77,447.53 L467.71,447.00 L468.65,446.86 L469.59,446.35 L470.52,445.88 L471.46,445.08 L472.40,444.46 L473.34,444.06 L474.28,443.74 L475.22,443.08 L476.16,443.08 L477.10,442.37 L478.04,441.90 L478.98,441.38 L479.92,440.90 L480.86,440.25 L481.79,439.28 L482.73,439.20 L483.67,438.52 L484.61,437.72 L485.55,437.10 L486.49,436.44" stroke="#d22f1c" stroke-width="1.5" fill="none" stroke-linejoin="round" stroke-linecap="round" />
<text x="447.30" y="476.84" font-size="9" text-anchor="middle" fill="#3d3d3d" textLength="29.50" lengthAdjust="spacingAndGlyphs" stroke="#3d3d3d" style="stroke-width:0.35px">Time (sec)</text>
<text x="0" y="2.74" font-size="7.6" text-anchor="middle" fill="#555" textLength="50.00" lengthAdjust="spacingAndGlyphs" transform="translate(381.80 432.85) rotate(-90)">Platelet adhesion</text>
<text x="0" y="2.74" font-size="7.6" text-anchor="middle" fill="#555" textLength="52.00" lengthAdjust="spacingAndGlyphs" transform="translate(390.90 432.65) rotate(-90)">(% area covered)</text>
<line x1="413.20" y1="414.70" x2="419.00" y2="414.70" stroke="#111" stroke-width="1.3" />
<path d="M414.2,413.59999999999997 L418,413.59999999999997 L416.1,416.0 Z" fill="#111"/>
<text x="420.40" y="416.21" font-size="4.2" text-anchor="start" fill="#111" stroke="#111" textLength="8.10" lengthAdjust="spacingAndGlyphs" >PBS</text>
<line x1="413.20" y1="420.70" x2="419.00" y2="420.70" stroke="#e0503a" stroke-width="0.8" />
<circle cx="416.1" cy="420.7" r="1.1" fill="#d22f1c"/>
<text x="420.40" y="422.21" font-size="4.2" text-anchor="start" fill="#5a2018" stroke="#5a2018" textLength="13.10" lengthAdjust="spacingAndGlyphs" >OxLDL</text>
<path d="M489.80,440.00 L494.00,440.00 L494.00,444.60 L489.80,444.60" stroke="#111" stroke-width="1.1" fill="none" stroke-linejoin="round" stroke-linecap="round" stroke-linecap="butt"/>
<text x="496.00" y="444.28" font-size="5.5" text-anchor="start" fill="#111" stroke="#111" >p=0.43</text>
<text x="449" y="491.8" font-size="7.4" text-anchor="middle" fill="#222" stroke="#222">ERK5<tspan dy="-3" font-size="5.4">flox/flox</tspan></text>
<line x1="407.60" y1="494.30" x2="407.60" y2="544.00" stroke="#111" stroke-width="1.2" />
<line x1="407.10" y1="543.50" x2="488.00" y2="543.50" stroke="#111" stroke-width="1.2" />
<line x1="405.30" y1="543.50" x2="407.60" y2="543.50" stroke="#111" stroke-width="0.9" />
<text x="403.40" y="545.55" font-size="5.7" text-anchor="end" fill="#111" stroke="#111" >0</text>
<line x1="405.30" y1="531.78" x2="407.60" y2="531.78" stroke="#111" stroke-width="0.9" />
<text x="403.40" y="533.83" font-size="5.7" text-anchor="end" fill="#111" stroke="#111" >5</text>
<line x1="405.30" y1="520.06" x2="407.60" y2="520.06" stroke="#111" stroke-width="0.9" />
<text x="403.40" y="522.11" font-size="5.7" text-anchor="end" fill="#111" stroke="#111" >10</text>
<line x1="405.30" y1="508.34" x2="407.60" y2="508.34" stroke="#111" stroke-width="0.9" />
<text x="403.40" y="510.39" font-size="5.7" text-anchor="end" fill="#111" stroke="#111" >15</text>
<line x1="405.30" y1="496.62" x2="407.60" y2="496.62" stroke="#111" stroke-width="0.9" />
<text x="403.40" y="498.67" font-size="5.7" text-anchor="end" fill="#111" stroke="#111" >20</text>
<line x1="407.60" y1="543.50" x2="407.60" y2="545.80" stroke="#111" stroke-width="0.9" />
<text x="407.60" y="552.82" font-size="5.6" text-anchor="middle" fill="#111" stroke="#111" >0</text>
<line x1="418.87" y1="543.50" x2="418.87" y2="545.80" stroke="#111" stroke-width="0.9" />
<text x="418.87" y="552.82" font-size="5.6" text-anchor="middle" fill="#111" stroke="#111" >10</text>
<line x1="430.14" y1="543.50" x2="430.14" y2="545.80" stroke="#111" stroke-width="0.9" />
<text x="430.14" y="552.82" font-size="5.6" text-anchor="middle" fill="#111" stroke="#111" >20</text>
<line x1="441.41" y1="543.50" x2="441.41" y2="545.80" stroke="#111" stroke-width="0.9" />
<text x="441.41" y="552.82" font-size="5.6" text-anchor="middle" fill="#111" stroke="#111" >30</text>
<line x1="452.68" y1="543.50" x2="452.68" y2="545.80" stroke="#111" stroke-width="0.9" />
<text x="452.68" y="552.82" font-size="5.6" text-anchor="middle" fill="#111" stroke="#111" >40</text>
<line x1="463.95" y1="543.50" x2="463.95" y2="545.80" stroke="#111" stroke-width="0.9" />
<text x="463.95" y="552.82" font-size="5.6" text-anchor="middle" fill="#111" stroke="#111" >50</text>
<line x1="475.22" y1="543.50" x2="475.22" y2="545.80" stroke="#111" stroke-width="0.9" />
<text x="475.22" y="552.82" font-size="5.6" text-anchor="middle" fill="#111" stroke="#111" >60</text>
<line x1="486.49" y1="543.50" x2="486.49" y2="545.80" stroke="#111" stroke-width="0.9" />
<text x="486.49" y="552.82" font-size="5.6" text-anchor="middle" fill="#111" stroke="#111" >70</text>
<path d="M444.79,543.50 L452.68,540.69 L463.95,536.47 L475.22,530.37 L486.49,523.81 L486.49,533.89 L475.22,537.87 L463.95,541.39 L458.31,543.03 L444.79,543.50Z" fill="#9a9a9a" stroke="#333" stroke-width="0.4"/>
<line x1="447.50" y1="542.54" x2="447.50" y2="543.41" stroke="#333" stroke-width="0.35" />
<line x1="446.70" y1="542.54" x2="448.30" y2="542.54" stroke="#333" stroke-width="0.35" />
<line x1="448.85" y1="542.05" x2="448.85" y2="543.36" stroke="#333" stroke-width="0.35" />
<line x1="448.05" y1="542.05" x2="449.65" y2="542.05" stroke="#333" stroke-width="0.35" />
<line x1="450.20" y1="541.57" x2="450.20" y2="543.31" stroke="#333" stroke-width="0.35" />
<line x1="449.40" y1="541.57" x2="451.00" y2="541.57" stroke="#333" stroke-width="0.35" />
<line x1="451.55" y1="541.09" x2="451.55" y2="543.27" stroke="#333" stroke-width="0.35" />
<line x1="450.75" y1="541.09" x2="452.35" y2="541.09" stroke="#333" stroke-width="0.35" />
<line x1="452.91" y1="540.60" x2="452.91" y2="543.22" stroke="#333" stroke-width="0.35" />
<line x1="452.11" y1="540.60" x2="453.71" y2="540.60" stroke="#333" stroke-width="0.35" />
<line x1="454.26" y1="540.10" x2="454.26" y2="543.17" stroke="#333" stroke-width="0.35" />
<line x1="453.46" y1="540.10" x2="455.06" y2="540.10" stroke="#333" stroke-width="0.35" />
<line x1="455.61" y1="539.59" x2="455.61" y2="543.12" stroke="#333" stroke-width="0.35" />
<line x1="454.81" y1="539.59" x2="456.41" y2="539.59" stroke="#333" stroke-width="0.35" />
<line x1="456.96" y1="539.08" x2="456.96" y2="543.08" stroke="#333" stroke-width="0.35" />
<line x1="456.16" y1="539.08" x2="457.76" y2="539.08" stroke="#333" stroke-width="0.35" />
<line x1="458.32" y1="538.58" x2="458.32" y2="543.03" stroke="#333" stroke-width="0.35" />
<line x1="457.52" y1="538.58" x2="459.12" y2="538.58" stroke="#333" stroke-width="0.35" />
<line x1="459.67" y1="538.07" x2="459.67" y2="542.64" stroke="#333" stroke-width="0.35" />
<line x1="458.87" y1="538.07" x2="460.47" y2="538.07" stroke="#333" stroke-width="0.35" />
<line x1="461.02" y1="537.56" x2="461.02" y2="542.24" stroke="#333" stroke-width="0.35" />
<line x1="460.22" y1="537.56" x2="461.82" y2="537.56" stroke="#333" stroke-width="0.35" />
<line x1="462.37" y1="537.06" x2="462.37" y2="541.85" stroke="#333" stroke-width="0.35" />
<line x1="461.57" y1="537.06" x2="463.17" y2="537.06" stroke="#333" stroke-width="0.35" />
<line x1="463.72" y1="536.55" x2="463.72" y2="541.46" stroke="#333" stroke-width="0.35" />
<line x1="462.92" y1="536.55" x2="464.52" y2="536.55" stroke="#333" stroke-width="0.35" />
<line x1="465.08" y1="535.86" x2="465.08" y2="541.04" stroke="#333" stroke-width="0.35" />
<line x1="464.28" y1="535.86" x2="465.88" y2="535.86" stroke="#333" stroke-width="0.35" />
<line x1="466.43" y1="535.13" x2="466.43" y2="540.62" stroke="#333" stroke-width="0.35" />
<line x1="465.63" y1="535.13" x2="467.23" y2="535.13" stroke="#333" stroke-width="0.35" />
<line x1="467.78" y1="534.40" x2="467.78" y2="540.19" stroke="#333" stroke-width="0.35" />
<line x1="466.98" y1="534.40" x2="468.58" y2="534.40" stroke="#333" stroke-width="0.35" />
<line x1="469.13" y1="533.66" x2="469.13" y2="539.77" stroke="#333" stroke-width="0.35" />
<line x1="468.33" y1="533.66" x2="469.93" y2="533.66" stroke="#333" stroke-width="0.35" />
<line x1="470.49" y1="532.93" x2="470.49" y2="539.35" stroke="#333" stroke-width="0.35" />
<line x1="469.69" y1="532.93" x2="471.29" y2="532.93" stroke="#333" stroke-width="0.35" />
<line x1="471.84" y1="532.20" x2="471.84" y2="538.93" stroke="#333" stroke-width="0.35" />
<line x1="471.04" y1="532.20" x2="472.64" y2="532.20" stroke="#333" stroke-width="0.35" />
<line x1="473.19" y1="531.47" x2="473.19" y2="538.51" stroke="#333" stroke-width="0.35" />
<line x1="472.39" y1="531.47" x2="473.99" y2="531.47" stroke="#333" stroke-width="0.35" />
<line x1="474.54" y1="530.74" x2="474.54" y2="538.09" stroke="#333" stroke-width="0.35" />
<line x1="473.74" y1="530.74" x2="475.34" y2="530.74" stroke="#333" stroke-width="0.35" />
<line x1="475.90" y1="529.98" x2="475.90" y2="537.64" stroke="#333" stroke-width="0.35" />
<line x1="475.10" y1="529.98" x2="476.70" y2="529.98" stroke="#333" stroke-width="0.35" />
<line x1="477.25" y1="529.19" x2="477.25" y2="537.16" stroke="#333" stroke-width="0.35" />
<line x1="476.45" y1="529.19" x2="478.05" y2="529.19" stroke="#333" stroke-width="0.35" />
<line x1="478.60" y1="528.40" x2="478.60" y2="536.68" stroke="#333" stroke-width="0.35" />
<line x1="477.80" y1="528.40" x2="479.40" y2="528.40" stroke="#333" stroke-width="0.35" />
<line x1="479.95" y1="527.62" x2="479.95" y2="536.20" stroke="#333" stroke-width="0.35" />
<line x1="479.15" y1="527.62" x2="480.75" y2="527.62" stroke="#333" stroke-width="0.35" />
<line x1="481.31" y1="526.83" x2="481.31" y2="535.72" stroke="#333" stroke-width="0.35" />
<line x1="480.51" y1="526.83" x2="482.11" y2="526.83" stroke="#333" stroke-width="0.35" />
<line x1="482.66" y1="526.04" x2="482.66" y2="535.24" stroke="#333" stroke-width="0.35" />
<line x1="481.86" y1="526.04" x2="483.46" y2="526.04" stroke="#333" stroke-width="0.35" />
<line x1="484.01" y1="525.25" x2="484.01" y2="534.77" stroke="#333" stroke-width="0.35" />
<line x1="483.21" y1="525.25" x2="484.81" y2="525.25" stroke="#333" stroke-width="0.35" />
<line x1="485.36" y1="524.47" x2="485.36" y2="534.29" stroke="#333" stroke-width="0.35" />
<line x1="484.56" y1="524.47" x2="486.16" y2="524.47" stroke="#333" stroke-width="0.35" />
<path d="M407.60,543.50 L444.79,543.50" stroke="#111" stroke-width="1.8" fill="none" stroke-linejoin="round" stroke-linecap="round" stroke-linecap="butt"/>
<path d="M444.79,543.60 L445.78,543.06 L446.76,543.29 L447.75,542.82 L448.74,542.54 L449.72,542.48 L450.71,542.58 L451.69,542.09 L452.68,542.24 L453.62,542.14 L454.56,541.62 L455.50,541.32 L456.44,541.14 L457.38,541.03 L458.31,540.85 L459.25,540.44 L460.19,540.15 L461.13,539.50 L462.07,539.23 L463.01,538.98 L463.95,538.96 L464.89,538.34 L465.83,538.15 L466.77,537.46 L467.71,537.14 L468.65,536.92 L469.59,536.81 L470.52,536.43 L471.46,536.03 L472.40,535.40 L473.34,535.15 L474.28,534.73 L475.22,534.34 L476.16,533.66 L477.10,533.66 L478.04,532.77 L478.98,532.77 L479.92,532.28 L480.86,531.26 L481.79,531.01 L482.73,530.72 L483.67,530.30 L484.61,529.48 L485.55,528.87 L486.49,528.50" stroke="#111" stroke-width="1.8" fill="none" stroke-linejoin="round" stroke-linecap="round" />
<path d="M426.76,543.50 L430.14,541.16 L441.41,534.36 L452.68,527.33 L463.95,520.53 L475.22,514.20 L486.49,506.46 L486.49,519.12 L475.22,524.98 L463.95,530.37 L452.68,535.53 L441.41,540.45 L432.39,543.50 L426.76,543.50Z" fill="#f3b3a2" stroke="#d63a22" stroke-width="0.4"/>
<line x1="428.45" y1="542.33" x2="428.45" y2="543.50" stroke="#d63a22" stroke-width="0.35" />
<line x1="427.65" y1="542.33" x2="429.25" y2="542.33" stroke="#d63a22" stroke-width="0.35" />
<line x1="430.14" y1="541.16" x2="430.14" y2="543.50" stroke="#d63a22" stroke-width="0.35" />
<line x1="429.34" y1="541.16" x2="430.94" y2="541.16" stroke="#d63a22" stroke-width="0.35" />
<line x1="431.83" y1="540.14" x2="431.83" y2="543.50" stroke="#d63a22" stroke-width="0.35" />
<line x1="431.03" y1="540.14" x2="432.63" y2="540.14" stroke="#d63a22" stroke-width="0.35" />
<line x1="433.52" y1="539.12" x2="433.52" y2="543.12" stroke="#d63a22" stroke-width="0.35" />
<line x1="432.72" y1="539.12" x2="434.32" y2="539.12" stroke="#d63a22" stroke-width="0.35" />
<line x1="435.21" y1="538.10" x2="435.21" y2="542.55" stroke="#d63a22" stroke-width="0.35" />
<line x1="434.41" y1="538.10" x2="436.01" y2="538.10" stroke="#d63a22" stroke-width="0.35" />
<line x1="436.90" y1="537.08" x2="436.90" y2="541.98" stroke="#d63a22" stroke-width="0.35" />
<line x1="436.10" y1="537.08" x2="437.70" y2="537.08" stroke="#d63a22" stroke-width="0.35" />
<line x1="438.59" y1="536.06" x2="438.59" y2="541.41" stroke="#d63a22" stroke-width="0.35" />
<line x1="437.79" y1="536.06" x2="439.39" y2="536.06" stroke="#d63a22" stroke-width="0.35" />
<line x1="440.28" y1="535.04" x2="440.28" y2="540.83" stroke="#d63a22" stroke-width="0.35" />
<line x1="439.48" y1="535.04" x2="441.08" y2="535.04" stroke="#d63a22" stroke-width="0.35" />
<line x1="441.97" y1="534.01" x2="441.97" y2="540.21" stroke="#d63a22" stroke-width="0.35" />
<line x1="441.17" y1="534.01" x2="442.77" y2="534.01" stroke="#d63a22" stroke-width="0.35" />
<line x1="443.66" y1="532.95" x2="443.66" y2="539.47" stroke="#d63a22" stroke-width="0.35" />
<line x1="442.86" y1="532.95" x2="444.46" y2="532.95" stroke="#d63a22" stroke-width="0.35" />
<line x1="445.35" y1="531.90" x2="445.35" y2="538.73" stroke="#d63a22" stroke-width="0.35" />
<line x1="444.55" y1="531.90" x2="446.15" y2="531.90" stroke="#d63a22" stroke-width="0.35" />
<line x1="447.05" y1="530.84" x2="447.05" y2="537.99" stroke="#d63a22" stroke-width="0.35" />
<line x1="446.25" y1="530.84" x2="447.85" y2="530.84" stroke="#d63a22" stroke-width="0.35" />
<line x1="448.74" y1="529.79" x2="448.74" y2="537.25" stroke="#d63a22" stroke-width="0.35" />
<line x1="447.94" y1="529.79" x2="449.54" y2="529.79" stroke="#d63a22" stroke-width="0.35" />
<line x1="450.43" y1="528.73" x2="450.43" y2="536.51" stroke="#d63a22" stroke-width="0.35" />
<line x1="449.63" y1="528.73" x2="451.23" y2="528.73" stroke="#d63a22" stroke-width="0.35" />
<line x1="452.12" y1="527.68" x2="452.12" y2="535.78" stroke="#d63a22" stroke-width="0.35" />
<line x1="451.32" y1="527.68" x2="452.92" y2="527.68" stroke="#d63a22" stroke-width="0.35" />
<line x1="453.81" y1="526.65" x2="453.81" y2="535.01" stroke="#d63a22" stroke-width="0.35" />
<line x1="453.01" y1="526.65" x2="454.61" y2="526.65" stroke="#d63a22" stroke-width="0.35" />
<line x1="455.50" y1="525.63" x2="455.50" y2="534.24" stroke="#d63a22" stroke-width="0.35" />
<line x1="454.70" y1="525.63" x2="456.30" y2="525.63" stroke="#d63a22" stroke-width="0.35" />
<line x1="457.19" y1="524.61" x2="457.19" y2="533.47" stroke="#d63a22" stroke-width="0.35" />
<line x1="456.39" y1="524.61" x2="457.99" y2="524.61" stroke="#d63a22" stroke-width="0.35" />
<line x1="458.88" y1="523.59" x2="458.88" y2="532.69" stroke="#d63a22" stroke-width="0.35" />
<line x1="458.08" y1="523.59" x2="459.68" y2="523.59" stroke="#d63a22" stroke-width="0.35" />
<line x1="460.57" y1="522.57" x2="460.57" y2="531.92" stroke="#d63a22" stroke-width="0.35" />
<line x1="459.77" y1="522.57" x2="461.37" y2="522.57" stroke="#d63a22" stroke-width="0.35" />
<line x1="462.26" y1="521.55" x2="462.26" y2="531.15" stroke="#d63a22" stroke-width="0.35" />
<line x1="461.46" y1="521.55" x2="463.06" y2="521.55" stroke="#d63a22" stroke-width="0.35" />
<line x1="463.95" y1="520.53" x2="463.95" y2="530.37" stroke="#d63a22" stroke-width="0.35" />
<line x1="463.15" y1="520.53" x2="464.75" y2="520.53" stroke="#d63a22" stroke-width="0.35" />
<line x1="465.64" y1="519.58" x2="465.64" y2="529.56" stroke="#d63a22" stroke-width="0.35" />
<line x1="464.84" y1="519.58" x2="466.44" y2="519.58" stroke="#d63a22" stroke-width="0.35" />
<line x1="467.33" y1="518.63" x2="467.33" y2="528.76" stroke="#d63a22" stroke-width="0.35" />
<line x1="466.53" y1="518.63" x2="468.13" y2="518.63" stroke="#d63a22" stroke-width="0.35" />
<line x1="469.02" y1="517.68" x2="469.02" y2="527.95" stroke="#d63a22" stroke-width="0.35" />
<line x1="468.22" y1="517.68" x2="469.82" y2="517.68" stroke="#d63a22" stroke-width="0.35" />
<line x1="470.71" y1="516.73" x2="470.71" y2="527.14" stroke="#d63a22" stroke-width="0.35" />
<line x1="469.91" y1="516.73" x2="471.51" y2="516.73" stroke="#d63a22" stroke-width="0.35" />
<line x1="472.40" y1="515.78" x2="472.40" y2="526.33" stroke="#d63a22" stroke-width="0.35" />
<line x1="471.60" y1="515.78" x2="473.20" y2="515.78" stroke="#d63a22" stroke-width="0.35" />
<line x1="474.09" y1="514.83" x2="474.09" y2="525.52" stroke="#d63a22" stroke-width="0.35" />
<line x1="473.29" y1="514.83" x2="474.89" y2="514.83" stroke="#d63a22" stroke-width="0.35" />
<line x1="475.78" y1="513.81" x2="475.78" y2="524.69" stroke="#d63a22" stroke-width="0.35" />
<line x1="474.98" y1="513.81" x2="476.58" y2="513.81" stroke="#d63a22" stroke-width="0.35" />
<line x1="477.47" y1="512.65" x2="477.47" y2="523.81" stroke="#d63a22" stroke-width="0.35" />
<line x1="476.67" y1="512.65" x2="478.27" y2="512.65" stroke="#d63a22" stroke-width="0.35" />
<line x1="479.16" y1="511.49" x2="479.16" y2="522.93" stroke="#d63a22" stroke-width="0.35" />
<line x1="478.36" y1="511.49" x2="479.96" y2="511.49" stroke="#d63a22" stroke-width="0.35" />
<line x1="480.86" y1="510.33" x2="480.86" y2="522.05" stroke="#d63a22" stroke-width="0.35" />
<line x1="480.06" y1="510.33" x2="481.66" y2="510.33" stroke="#d63a22" stroke-width="0.35" />
<line x1="482.55" y1="509.17" x2="482.55" y2="521.17" stroke="#d63a22" stroke-width="0.35" />
<line x1="481.75" y1="509.17" x2="483.35" y2="509.17" stroke="#d63a22" stroke-width="0.35" />
<line x1="484.24" y1="508.01" x2="484.24" y2="520.29" stroke="#d63a22" stroke-width="0.35" />
<line x1="483.44" y1="508.01" x2="485.04" y2="508.01" stroke="#d63a22" stroke-width="0.35" />
<line x1="485.93" y1="506.85" x2="485.93" y2="519.42" stroke="#d63a22" stroke-width="0.35" />
<line x1="485.13" y1="506.85" x2="486.73" y2="506.85" stroke="#d63a22" stroke-width="0.35" />
<path d="M425.63,543.50 L426.76,543.50" stroke="#d22f1c" stroke-width="1.5" fill="none" stroke-linejoin="round" stroke-linecap="round" stroke-linecap="butt"/>
<path d="M426.76,543.30 L427.89,543.50 L429.01,542.67 L430.14,542.62 L431.08,541.86 L432.02,541.68 L432.96,541.53 L433.90,540.51 L434.84,540.54 L435.78,539.87 L436.71,539.69 L437.65,539.11 L438.59,538.33 L439.53,538.35 L440.47,537.61 L441.41,536.84 L442.35,536.30 L443.29,536.11 L444.23,535.55 L445.17,534.92 L446.11,534.28 L447.05,533.90 L447.98,533.35 L448.92,533.19 L449.86,532.08 L450.80,532.07 L451.74,531.61 L452.68,530.58 L453.62,530.65 L454.56,530.01 L455.50,529.66 L456.44,528.74 L457.38,528.31 L458.32,527.84 L459.25,527.77 L460.19,527.00 L461.13,526.35 L462.07,525.91 L463.01,525.31 L463.95,524.67 L464.89,524.22 L465.83,524.24 L466.77,523.37 L467.71,523.33 L468.65,522.37 L469.59,521.89 L470.52,521.57 L471.46,520.86 L472.40,520.50 L473.34,520.42 L474.28,519.88 L475.22,519.34 L476.16,518.71 L477.10,518.40 L478.04,517.91 L478.98,517.13 L479.92,516.74 L480.86,515.76 L481.79,515.73 L482.73,515.03 L483.67,514.73 L484.61,514.14 L485.55,513.39 L486.49,513.03" stroke="#d22f1c" stroke-width="1.5" fill="none" stroke-linejoin="round" stroke-linecap="round" />
<text x="447.30" y="563.14" font-size="9" text-anchor="middle" fill="#3d3d3d" textLength="29.50" lengthAdjust="spacingAndGlyphs" stroke="#3d3d3d" style="stroke-width:0.35px">Time (sec)</text>
<text x="0" y="2.74" font-size="7.6" text-anchor="middle" fill="#555" textLength="50.00" lengthAdjust="spacingAndGlyphs" transform="translate(381.80 519.50) rotate(-90)">Platelet adhesion</text>
<text x="0" y="2.74" font-size="7.6" text-anchor="middle" fill="#555" textLength="52.00" lengthAdjust="spacingAndGlyphs" transform="translate(390.90 519.30) rotate(-90)">(% area covered)</text>
<line x1="413.20" y1="502.00" x2="419.00" y2="502.00" stroke="#111" stroke-width="1.3" />
<path d="M414.2,500.9 L418,500.9 L416.1,503.3 Z" fill="#111"/>
<text x="420.40" y="503.51" font-size="4.2" text-anchor="start" fill="#111" stroke="#111" textLength="8.10" lengthAdjust="spacingAndGlyphs" >PBS</text>
<line x1="413.20" y1="508.00" x2="419.00" y2="508.00" stroke="#e0503a" stroke-width="0.8" />
<circle cx="416.1" cy="508" r="1.1" fill="#d22f1c"/>
<text x="420.40" y="509.51" font-size="4.2" text-anchor="start" fill="#5a2018" stroke="#5a2018" textLength="13.10" lengthAdjust="spacingAndGlyphs" >OxLDL</text>
<path d="M487.60,512.30 L491.80,512.30 L491.80,529.00 L487.60,529.00" stroke="#111" stroke-width="1.1" fill="none" stroke-linejoin="round" stroke-linecap="round" stroke-linecap="butt"/>
<text x="493.70" y="522.63" font-size="5.5" text-anchor="start" fill="#111" stroke="#111" >p=0.011</text>
<text x="449" y="574" font-size="5.8" text-anchor="middle" fill="#111" stroke="#111" textLength="46.5" lengthAdjust="spacingAndGlyphs">ERK5flx/PF4cre+</text>
<line x1="407.60" y1="576.00" x2="407.60" y2="626.20" stroke="#111" stroke-width="1.2" />
<line x1="407.10" y1="625.70" x2="488.00" y2="625.70" stroke="#111" stroke-width="1.2" />
<line x1="405.30" y1="625.70" x2="407.60" y2="625.70" stroke="#111" stroke-width="0.9" />
<text x="403.40" y="627.75" font-size="5.7" text-anchor="end" fill="#111" stroke="#111" >0</text>
<line x1="405.30" y1="613.87" x2="407.60" y2="613.87" stroke="#111" stroke-width="0.9" />
<text x="403.40" y="615.92" font-size="5.7" text-anchor="end" fill="#111" stroke="#111" >5</text>
<line x1="405.30" y1="602.04" x2="407.60" y2="602.04" stroke="#111" stroke-width="0.9" />
<text x="403.40" y="604.09" font-size="5.7" text-anchor="end" fill="#111" stroke="#111" >10</text>
<line x1="405.30" y1="590.21" x2="407.60" y2="590.21" stroke="#111" stroke-width="0.9" />
<text x="403.40" y="592.26" font-size="5.7" text-anchor="end" fill="#111" stroke="#111" >15</text>
<line x1="405.30" y1="578.38" x2="407.60" y2="578.38" stroke="#111" stroke-width="0.9" />
<text x="403.40" y="580.43" font-size="5.7" text-anchor="end" fill="#111" stroke="#111" >20</text>
<line x1="407.60" y1="625.70" x2="407.60" y2="628.00" stroke="#111" stroke-width="0.9" />
<text x="407.60" y="635.02" font-size="5.6" text-anchor="middle" fill="#111" stroke="#111" >0</text>
<line x1="418.87" y1="625.70" x2="418.87" y2="628.00" stroke="#111" stroke-width="0.9" />
<text x="418.87" y="635.02" font-size="5.6" text-anchor="middle" fill="#111" stroke="#111" >10</text>
<line x1="430.14" y1="625.70" x2="430.14" y2="628.00" stroke="#111" stroke-width="0.9" />
<text x="430.14" y="635.02" font-size="5.6" text-anchor="middle" fill="#111" stroke="#111" >20</text>
<line x1="441.41" y1="625.70" x2="441.41" y2="628.00" stroke="#111" stroke-width="0.9" />
<text x="441.41" y="635.02" font-size="5.6" text-anchor="middle" fill="#111" stroke="#111" >30</text>
<line x1="452.68" y1="625.70" x2="452.68" y2="628.00" stroke="#111" stroke-width="0.9" />
<text x="452.68" y="635.02" font-size="5.6" text-anchor="middle" fill="#111" stroke="#111" >40</text>
<line x1="463.95" y1="625.70" x2="463.95" y2="628.00" stroke="#111" stroke-width="0.9" />
<text x="463.95" y="635.02" font-size="5.6" text-anchor="middle" fill="#111" stroke="#111" >50</text>
<line x1="475.22" y1="625.70" x2="475.22" y2="628.00" stroke="#111" stroke-width="0.9" />
<text x="475.22" y="635.02" font-size="5.6" text-anchor="middle" fill="#111" stroke="#111" >60</text>
<line x1="486.49" y1="625.70" x2="486.49" y2="628.00" stroke="#111" stroke-width="0.9" />
<text x="486.49" y="635.02" font-size="5.6" text-anchor="middle" fill="#111" stroke="#111" >70</text>
<path d="M438.03,625.70 L441.41,624.04 L452.68,619.55 L463.95,616.47 L475.22,613.87 L486.49,611.50 L486.49,622.86 L475.22,622.15 L463.95,621.68 L452.68,623.81 L447.05,625.23 L438.03,625.70Z" fill="#f3b3a2" stroke="#d63a22" stroke-width="0.4"/>
<line x1="439.72" y1="624.87" x2="439.72" y2="625.61" stroke="#d63a22" stroke-width="0.35" />
<line x1="438.92" y1="624.87" x2="440.52" y2="624.87" stroke="#d63a22" stroke-width="0.35" />
<line x1="441.41" y1="624.04" x2="441.41" y2="625.52" stroke="#d63a22" stroke-width="0.35" />
<line x1="440.61" y1="624.04" x2="442.21" y2="624.04" stroke="#d63a22" stroke-width="0.35" />
<line x1="443.10" y1="623.37" x2="443.10" y2="625.43" stroke="#d63a22" stroke-width="0.35" />
<line x1="442.30" y1="623.37" x2="443.90" y2="623.37" stroke="#d63a22" stroke-width="0.35" />
<line x1="444.79" y1="622.70" x2="444.79" y2="625.35" stroke="#d63a22" stroke-width="0.35" />
<line x1="443.99" y1="622.70" x2="445.59" y2="622.70" stroke="#d63a22" stroke-width="0.35" />
<line x1="446.48" y1="622.02" x2="446.48" y2="625.26" stroke="#d63a22" stroke-width="0.35" />
<line x1="445.68" y1="622.02" x2="447.28" y2="622.02" stroke="#d63a22" stroke-width="0.35" />
<line x1="448.17" y1="621.35" x2="448.17" y2="624.94" stroke="#d63a22" stroke-width="0.35" />
<line x1="447.37" y1="621.35" x2="448.97" y2="621.35" stroke="#d63a22" stroke-width="0.35" />
<line x1="449.86" y1="620.67" x2="449.86" y2="624.52" stroke="#d63a22" stroke-width="0.35" />
<line x1="449.06" y1="620.67" x2="450.66" y2="620.67" stroke="#d63a22" stroke-width="0.35" />
<line x1="451.55" y1="620.00" x2="451.55" y2="624.09" stroke="#d63a22" stroke-width="0.35" />
<line x1="450.75" y1="620.00" x2="452.35" y2="620.00" stroke="#d63a22" stroke-width="0.35" />
<line x1="453.24" y1="619.39" x2="453.24" y2="623.70" stroke="#d63a22" stroke-width="0.35" />
<line x1="452.44" y1="619.39" x2="454.04" y2="619.39" stroke="#d63a22" stroke-width="0.35" />
<line x1="454.93" y1="618.93" x2="454.93" y2="623.38" stroke="#d63a22" stroke-width="0.35" />
<line x1="454.13" y1="618.93" x2="455.73" y2="618.93" stroke="#d63a22" stroke-width="0.35" />
<line x1="456.62" y1="618.47" x2="456.62" y2="623.06" stroke="#d63a22" stroke-width="0.35" />
<line x1="455.82" y1="618.47" x2="457.42" y2="618.47" stroke="#d63a22" stroke-width="0.35" />
<line x1="458.31" y1="618.01" x2="458.31" y2="622.74" stroke="#d63a22" stroke-width="0.35" />
<line x1="457.51" y1="618.01" x2="459.12" y2="618.01" stroke="#d63a22" stroke-width="0.35" />
<line x1="460.01" y1="617.55" x2="460.01" y2="622.42" stroke="#d63a22" stroke-width="0.35" />
<line x1="459.21" y1="617.55" x2="460.81" y2="617.55" stroke="#d63a22" stroke-width="0.35" />
<line x1="461.70" y1="617.09" x2="461.70" y2="622.10" stroke="#d63a22" stroke-width="0.35" />
<line x1="460.90" y1="617.09" x2="462.50" y2="617.09" stroke="#d63a22" stroke-width="0.35" />
<line x1="463.39" y1="616.63" x2="463.39" y2="621.78" stroke="#d63a22" stroke-width="0.35" />
<line x1="462.59" y1="616.63" x2="464.19" y2="616.63" stroke="#d63a22" stroke-width="0.35" />
<line x1="465.08" y1="616.21" x2="465.08" y2="621.73" stroke="#d63a22" stroke-width="0.35" />
<line x1="464.28" y1="616.21" x2="465.88" y2="616.21" stroke="#d63a22" stroke-width="0.35" />
<line x1="466.77" y1="615.82" x2="466.77" y2="621.80" stroke="#d63a22" stroke-width="0.35" />
<line x1="465.97" y1="615.82" x2="467.57" y2="615.82" stroke="#d63a22" stroke-width="0.35" />
<line x1="468.46" y1="615.43" x2="468.46" y2="621.87" stroke="#d63a22" stroke-width="0.35" />
<line x1="467.66" y1="615.43" x2="469.26" y2="615.43" stroke="#d63a22" stroke-width="0.35" />
<line x1="470.15" y1="615.04" x2="470.15" y2="621.94" stroke="#d63a22" stroke-width="0.35" />
<line x1="469.35" y1="615.04" x2="470.95" y2="615.04" stroke="#d63a22" stroke-width="0.35" />
<line x1="471.84" y1="614.65" x2="471.84" y2="622.01" stroke="#d63a22" stroke-width="0.35" />
<line x1="471.04" y1="614.65" x2="472.64" y2="614.65" stroke="#d63a22" stroke-width="0.35" />
<line x1="473.53" y1="614.26" x2="473.53" y2="622.08" stroke="#d63a22" stroke-width="0.35" />
<line x1="472.73" y1="614.26" x2="474.33" y2="614.26" stroke="#d63a22" stroke-width="0.35" />
<line x1="475.22" y1="613.87" x2="475.22" y2="622.15" stroke="#d63a22" stroke-width="0.35" />
<line x1="474.42" y1="613.87" x2="476.02" y2="613.87" stroke="#d63a22" stroke-width="0.35" />
<line x1="476.91" y1="613.52" x2="476.91" y2="622.26" stroke="#d63a22" stroke-width="0.35" />
<line x1="476.11" y1="613.52" x2="477.71" y2="613.52" stroke="#d63a22" stroke-width="0.35" />
<line x1="478.60" y1="613.16" x2="478.60" y2="622.36" stroke="#d63a22" stroke-width="0.35" />
<line x1="477.80" y1="613.16" x2="479.40" y2="613.16" stroke="#d63a22" stroke-width="0.35" />
<line x1="480.29" y1="612.81" x2="480.29" y2="622.47" stroke="#d63a22" stroke-width="0.35" />
<line x1="479.49" y1="612.81" x2="481.09" y2="612.81" stroke="#d63a22" stroke-width="0.35" />
<line x1="481.98" y1="612.45" x2="481.98" y2="622.58" stroke="#d63a22" stroke-width="0.35" />
<line x1="481.18" y1="612.45" x2="482.78" y2="612.45" stroke="#d63a22" stroke-width="0.35" />
<line x1="483.67" y1="612.10" x2="483.67" y2="622.68" stroke="#d63a22" stroke-width="0.35" />
<line x1="482.87" y1="612.10" x2="484.47" y2="612.10" stroke="#d63a22" stroke-width="0.35" />
<line x1="485.36" y1="611.74" x2="485.36" y2="622.79" stroke="#d63a22" stroke-width="0.35" />
<line x1="484.56" y1="611.74" x2="486.16" y2="611.74" stroke="#d63a22" stroke-width="0.35" />
<path d="M436.90,625.70 L438.03,625.70" stroke="#d22f1c" stroke-width="1.5" fill="none" stroke-linejoin="round" stroke-linecap="round" stroke-linecap="butt"/>
<path d="M438.03,625.38 L439.16,625.76 L440.28,624.97 L441.41,624.97 L442.35,624.60 L443.29,624.30 L444.23,624.33 L445.17,624.22 L446.11,623.44 L447.05,623.44 L447.98,622.92 L448.92,622.82 L449.86,622.43 L450.80,622.00 L451.74,621.72 L452.68,621.47 L453.62,621.73 L454.56,621.20 L455.50,620.77 L456.44,621.02 L457.38,620.84 L458.32,620.22 L459.25,619.77 L460.19,619.57 L461.13,619.26 L462.07,619.20 L463.01,618.79 L463.95,618.66 L464.89,618.53 L465.83,618.61 L466.77,618.70 L467.71,618.46 L468.65,618.09 L469.59,617.95 L470.52,617.89 L471.46,617.65 L472.40,617.48 L473.34,617.15 L474.28,617.16 L475.22,617.51 L476.16,616.78 L477.10,616.91 L478.04,616.86 L478.98,616.88 L479.92,616.29 L480.86,616.19 L481.79,616.04 L482.73,616.01 L483.67,615.90 L484.61,616.12 L485.55,615.91 L486.49,615.53" stroke="#d22f1c" stroke-width="1.5" fill="none" stroke-linejoin="round" stroke-linecap="round" />
<path d="M444.79,625.23 L452.68,623.57 L463.95,619.55 L475.22,611.27 L486.49,605.12 L486.49,621.68 L475.22,623.10 L463.95,624.75 L458.31,625.46 L444.79,625.70Z" fill="#d0d0d0" stroke="#222" stroke-width="0.4"/>
<line x1="446.82" y1="624.80" x2="446.82" y2="625.66" stroke="#222" stroke-width="0.4" />
<line x1="446.02" y1="624.80" x2="447.62" y2="624.80" stroke="#222" stroke-width="0.4" />
<line x1="447.83" y1="624.59" x2="447.83" y2="625.65" stroke="#222" stroke-width="0.4" />
<line x1="447.03" y1="624.59" x2="448.63" y2="624.59" stroke="#222" stroke-width="0.4" />
<line x1="448.85" y1="624.38" x2="448.85" y2="625.63" stroke="#222" stroke-width="0.4" />
<line x1="448.05" y1="624.38" x2="449.65" y2="624.38" stroke="#222" stroke-width="0.4" />
<line x1="449.86" y1="624.16" x2="449.86" y2="625.61" stroke="#222" stroke-width="0.4" />
<line x1="449.06" y1="624.16" x2="450.66" y2="624.16" stroke="#222" stroke-width="0.4" />
<line x1="450.88" y1="623.95" x2="450.88" y2="625.59" stroke="#222" stroke-width="0.4" />
<line x1="450.08" y1="623.95" x2="451.68" y2="623.95" stroke="#222" stroke-width="0.4" />
<line x1="451.89" y1="623.74" x2="451.89" y2="625.58" stroke="#222" stroke-width="0.4" />
<line x1="451.09" y1="623.74" x2="452.69" y2="623.74" stroke="#222" stroke-width="0.4" />
<line x1="452.91" y1="623.49" x2="452.91" y2="625.56" stroke="#222" stroke-width="0.4" />
<line x1="452.11" y1="623.49" x2="453.71" y2="623.49" stroke="#222" stroke-width="0.4" />
<line x1="453.92" y1="623.13" x2="453.92" y2="625.54" stroke="#222" stroke-width="0.4" />
<line x1="453.12" y1="623.13" x2="454.72" y2="623.13" stroke="#222" stroke-width="0.4" />
<line x1="454.93" y1="622.77" x2="454.93" y2="625.52" stroke="#222" stroke-width="0.4" />
<line x1="454.13" y1="622.77" x2="455.73" y2="622.77" stroke="#222" stroke-width="0.4" />
<line x1="455.95" y1="622.40" x2="455.95" y2="625.50" stroke="#222" stroke-width="0.4" />
<line x1="455.15" y1="622.40" x2="456.75" y2="622.40" stroke="#222" stroke-width="0.4" />
<line x1="456.96" y1="622.04" x2="456.96" y2="625.49" stroke="#222" stroke-width="0.4" />
<line x1="456.16" y1="622.04" x2="457.76" y2="622.04" stroke="#222" stroke-width="0.4" />
<line x1="457.98" y1="621.68" x2="457.98" y2="625.47" stroke="#222" stroke-width="0.4" />
<line x1="457.18" y1="621.68" x2="458.78" y2="621.68" stroke="#222" stroke-width="0.4" />
<line x1="458.99" y1="621.32" x2="458.99" y2="625.38" stroke="#222" stroke-width="0.4" />
<line x1="458.19" y1="621.32" x2="459.79" y2="621.32" stroke="#222" stroke-width="0.4" />
<line x1="460.01" y1="620.96" x2="460.01" y2="625.25" stroke="#222" stroke-width="0.4" />
<line x1="459.21" y1="620.96" x2="460.81" y2="620.96" stroke="#222" stroke-width="0.4" />
<line x1="461.02" y1="620.59" x2="461.02" y2="625.12" stroke="#222" stroke-width="0.4" />
<line x1="460.22" y1="620.59" x2="461.82" y2="620.59" stroke="#222" stroke-width="0.4" />
<line x1="462.03" y1="620.23" x2="462.03" y2="624.99" stroke="#222" stroke-width="0.4" />
<line x1="461.23" y1="620.23" x2="462.83" y2="620.23" stroke="#222" stroke-width="0.4" />
<line x1="463.05" y1="619.87" x2="463.05" y2="624.87" stroke="#222" stroke-width="0.4" />
<line x1="462.25" y1="619.87" x2="463.85" y2="619.87" stroke="#222" stroke-width="0.4" />
<line x1="464.06" y1="619.47" x2="464.06" y2="624.74" stroke="#222" stroke-width="0.4" />
<line x1="463.26" y1="619.47" x2="464.86" y2="619.47" stroke="#222" stroke-width="0.4" />
<line x1="465.08" y1="618.72" x2="465.08" y2="624.59" stroke="#222" stroke-width="0.4" />
<line x1="464.28" y1="618.72" x2="465.88" y2="618.72" stroke="#222" stroke-width="0.4" />
<line x1="466.09" y1="617.98" x2="466.09" y2="624.44" stroke="#222" stroke-width="0.4" />
<line x1="465.29" y1="617.98" x2="466.89" y2="617.98" stroke="#222" stroke-width="0.4" />
<line x1="467.11" y1="617.23" x2="467.11" y2="624.29" stroke="#222" stroke-width="0.4" />
<line x1="466.31" y1="617.23" x2="467.91" y2="617.23" stroke="#222" stroke-width="0.4" />
<line x1="468.12" y1="616.48" x2="468.12" y2="624.14" stroke="#222" stroke-width="0.4" />
<line x1="467.32" y1="616.48" x2="468.92" y2="616.48" stroke="#222" stroke-width="0.4" />
<line x1="469.13" y1="615.74" x2="469.13" y2="623.99" stroke="#222" stroke-width="0.4" />
<line x1="468.33" y1="615.74" x2="469.93" y2="615.74" stroke="#222" stroke-width="0.4" />
<line x1="470.15" y1="614.99" x2="470.15" y2="623.84" stroke="#222" stroke-width="0.4" />
<line x1="469.35" y1="614.99" x2="470.95" y2="614.99" stroke="#222" stroke-width="0.4" />
<line x1="471.16" y1="614.25" x2="471.16" y2="623.69" stroke="#222" stroke-width="0.4" />
<line x1="470.36" y1="614.25" x2="471.96" y2="614.25" stroke="#222" stroke-width="0.4" />
<line x1="472.18" y1="613.50" x2="472.18" y2="623.54" stroke="#222" stroke-width="0.4" />
<line x1="471.38" y1="613.50" x2="472.98" y2="613.50" stroke="#222" stroke-width="0.4" />
<line x1="473.19" y1="612.76" x2="473.19" y2="623.40" stroke="#222" stroke-width="0.4" />
<line x1="472.39" y1="612.76" x2="473.99" y2="612.76" stroke="#222" stroke-width="0.4" />
<line x1="474.21" y1="612.01" x2="474.21" y2="623.25" stroke="#222" stroke-width="0.4" />
<line x1="473.41" y1="612.01" x2="475.01" y2="612.01" stroke="#222" stroke-width="0.4" />
<line x1="475.22" y1="611.27" x2="475.22" y2="623.10" stroke="#222" stroke-width="0.4" />
<line x1="474.42" y1="611.27" x2="476.02" y2="611.27" stroke="#222" stroke-width="0.4" />
<line x1="476.23" y1="610.71" x2="476.23" y2="622.97" stroke="#222" stroke-width="0.4" />
<line x1="475.43" y1="610.71" x2="477.03" y2="610.71" stroke="#222" stroke-width="0.4" />
<line x1="477.25" y1="610.16" x2="477.25" y2="622.84" stroke="#222" stroke-width="0.4" />
<line x1="476.45" y1="610.16" x2="478.05" y2="610.16" stroke="#222" stroke-width="0.4" />
<line x1="478.26" y1="609.61" x2="478.26" y2="622.71" stroke="#222" stroke-width="0.4" />
<line x1="477.46" y1="609.61" x2="479.06" y2="609.61" stroke="#222" stroke-width="0.4" />
<line x1="479.28" y1="609.05" x2="479.28" y2="622.59" stroke="#222" stroke-width="0.4" />
<line x1="478.48" y1="609.05" x2="480.08" y2="609.05" stroke="#222" stroke-width="0.4" />
<line x1="480.29" y1="608.50" x2="480.29" y2="622.46" stroke="#222" stroke-width="0.4" />
<line x1="479.49" y1="608.50" x2="481.09" y2="608.50" stroke="#222" stroke-width="0.4" />
<line x1="481.31" y1="607.95" x2="481.31" y2="622.33" stroke="#222" stroke-width="0.4" />
<line x1="480.51" y1="607.95" x2="482.11" y2="607.95" stroke="#222" stroke-width="0.4" />
<line x1="482.32" y1="607.39" x2="482.32" y2="622.20" stroke="#222" stroke-width="0.4" />
<line x1="481.52" y1="607.39" x2="483.12" y2="607.39" stroke="#222" stroke-width="0.4" />
<line x1="483.33" y1="606.84" x2="483.33" y2="622.08" stroke="#222" stroke-width="0.4" />
<line x1="482.53" y1="606.84" x2="484.13" y2="606.84" stroke="#222" stroke-width="0.4" />
<line x1="484.35" y1="606.28" x2="484.35" y2="621.95" stroke="#222" stroke-width="0.4" />
<line x1="483.55" y1="606.28" x2="485.15" y2="606.28" stroke="#222" stroke-width="0.4" />
<line x1="485.36" y1="605.73" x2="485.36" y2="621.82" stroke="#222" stroke-width="0.4" />
<line x1="484.56" y1="605.73" x2="486.16" y2="605.73" stroke="#222" stroke-width="0.4" />
<line x1="486.38" y1="605.18" x2="486.38" y2="621.69" stroke="#222" stroke-width="0.4" />
<line x1="485.58" y1="605.18" x2="487.18" y2="605.18" stroke="#222" stroke-width="0.4" />
<path d="M453.81,625.34 L456.06,625.24 L458.31,625.14 L460.57,624.81 L462.82,624.48 L465.08,624.10 L467.33,623.66 L469.59,623.22 L471.84,622.77 L474.09,622.33 L476.35,621.93 L478.60,621.57 L480.86,621.20 L483.11,620.84 L485.36,620.48" stroke="#444" stroke-width="0.25" fill="none" stroke-linejoin="round" stroke-linecap="round" />
<path d="M453.81,625.15 L456.06,624.98 L458.31,624.81 L460.57,624.44 L462.82,624.07 L465.08,623.61 L467.33,623.06 L469.59,622.51 L471.84,621.95 L474.09,621.40 L476.35,620.90 L478.60,620.46 L480.86,620.02 L483.11,619.58 L485.36,619.14" stroke="#444" stroke-width="0.25" fill="none" stroke-linejoin="round" stroke-linecap="round" />
<path d="M453.81,624.95 L456.06,624.72 L458.31,624.49 L460.57,624.07 L462.82,623.66 L465.08,623.12 L467.33,622.46 L469.59,621.80 L471.84,621.13 L474.09,620.47 L476.35,619.88 L478.60,619.36 L480.86,618.84 L483.11,618.32 L485.36,617.80" stroke="#444" stroke-width="0.25" fill="none" stroke-linejoin="round" stroke-linecap="round" />
<path d="M453.81,624.75 L456.06,624.46 L458.31,624.16 L460.57,623.70 L462.82,623.25 L465.08,622.63 L467.33,621.86 L469.59,621.09 L471.84,620.31 L474.09,619.54 L476.35,618.85 L478.60,618.25 L480.86,617.66 L483.11,617.06 L485.36,616.46" stroke="#444" stroke-width="0.25" fill="none" stroke-linejoin="round" stroke-linecap="round" />
<path d="M453.81,624.55 L456.06,624.19 L458.31,623.84 L460.57,623.34 L462.82,622.84 L465.08,622.14 L467.33,621.26 L469.59,620.38 L471.84,619.49 L474.09,618.61 L476.35,617.83 L478.60,617.15 L480.86,616.47 L483.11,615.79 L485.36,615.12" stroke="#444" stroke-width="0.25" fill="none" stroke-linejoin="round" stroke-linecap="round" />
<path d="M453.81,624.36 L456.06,623.93 L458.31,623.51 L460.57,622.97 L462.82,622.42 L465.08,621.65 L467.33,620.66 L469.59,619.67 L471.84,618.67 L474.09,617.68 L476.35,616.80 L478.60,616.05 L480.86,615.29 L483.11,614.53 L485.36,613.78" stroke="#444" stroke-width="0.25" fill="none" stroke-linejoin="round" stroke-linecap="round" />
<path d="M453.81,624.16 L456.06,623.67 L458.31,623.19 L460.57,622.60 L462.82,622.01 L465.08,621.17 L467.33,620.06 L469.59,618.96 L471.84,617.85 L474.09,616.75 L476.35,615.78 L478.60,614.94 L480.86,614.11 L483.11,613.27 L485.36,612.43" stroke="#444" stroke-width="0.25" fill="none" stroke-linejoin="round" stroke-linecap="round" />
<path d="M453.81,623.96 L456.06,623.41 L458.31,622.86 L460.57,622.23 L462.82,621.60 L465.08,620.68 L467.33,619.46 L469.59,618.25 L471.84,617.03 L474.09,615.82 L476.35,614.75 L478.60,613.84 L480.86,612.92 L483.11,612.01 L485.36,611.09" stroke="#444" stroke-width="0.25" fill="none" stroke-linejoin="round" stroke-linecap="round" />
<path d="M453.81,623.76 L456.06,623.15 L458.31,622.54 L460.57,621.86 L462.82,621.19 L465.08,620.19 L467.33,618.86 L469.59,617.54 L471.84,616.21 L474.09,614.89 L476.35,613.73 L478.60,612.73 L480.86,611.74 L483.11,610.75 L485.36,609.75" stroke="#444" stroke-width="0.25" fill="none" stroke-linejoin="round" stroke-linecap="round" />
<path d="M453.81,623.56 L456.06,622.89 L458.31,622.21 L460.57,621.49 L462.82,620.77 L465.08,619.70 L467.33,618.26 L469.59,616.83 L471.84,615.39 L474.09,613.96 L476.35,612.70 L478.60,611.63 L480.86,610.56 L483.11,609.49 L485.36,608.41" stroke="#444" stroke-width="0.25" fill="none" stroke-linejoin="round" stroke-linecap="round" />
<path d="M453.81,623.37 L456.06,622.63 L458.31,621.88 L460.57,621.12 L462.82,620.36 L465.08,619.21 L467.33,617.66 L469.59,616.12 L471.84,614.57 L474.09,613.03 L476.35,611.68 L478.60,610.53 L480.86,609.37 L483.11,608.22 L485.36,607.07" stroke="#444" stroke-width="0.25" fill="none" stroke-linejoin="round" stroke-linecap="round" />
<path d="M407.60,625.70 L444.79,625.70" stroke="#111" stroke-width="1.8" fill="none" stroke-linejoin="round" stroke-linecap="round" stroke-linecap="butt"/>
<path d="M444.79,625.92 L445.78,625.32 L446.76,625.24 L447.75,625.56 L448.74,625.58 L449.72,625.24 L450.71,625.22 L451.69,624.78 L452.68,624.93 L453.62,625.05 L454.56,624.79 L455.50,624.61 L456.44,624.48 L457.38,623.85 L458.31,623.57 L459.25,623.32 L460.19,623.27 L461.13,623.09 L462.07,622.97 L463.01,622.56 L463.95,622.24 L464.89,621.95 L465.83,621.42 L466.77,621.12 L467.71,620.46 L468.65,620.55 L469.59,619.86 L470.52,619.88 L471.46,619.32 L472.40,618.72 L473.34,618.22 L474.28,617.90 L475.22,617.74 L476.16,617.42 L477.10,616.71 L478.04,616.33 L478.98,616.25 L479.92,615.93 L480.86,615.46 L481.79,614.97 L482.73,614.80 L483.67,614.05 L484.61,613.83 L485.55,613.53 L486.49,613.16" stroke="#111" stroke-width="1.8" fill="none" stroke-linejoin="round" stroke-linecap="round" />
<g opacity="0.75">
<path d="M452.68,621.95 L453.62,621.53 L454.56,621.43 L455.50,620.95 L456.44,620.57 L457.38,620.34 L458.32,620.53 L459.25,620.14 L460.19,619.67 L461.13,619.26 L462.07,619.31 L463.01,619.18 L463.95,618.79 L464.89,618.55 L465.83,618.66 L466.77,618.68 L467.71,618.12 L468.65,617.87 L469.59,617.91 L470.52,617.82 L471.46,617.84 L472.40,617.42 L473.34,617.64 L474.28,617.46 L475.22,617.19 L476.16,616.87 L477.10,617.19 L478.04,616.66 L478.98,616.82 L479.92,616.33 L480.86,616.19 L481.79,616.37 L482.73,615.96 L483.67,616.21 L484.61,615.80 L485.55,615.48 L486.49,615.53" stroke="#d22f1c" stroke-width="1.3" fill="none" stroke-linejoin="round" stroke-linecap="round" />
</g>
<path d="M463.95,621.98 L464.89,621.75 L465.83,621.54 L466.77,621.36 L467.71,620.52 L468.65,620.31 L469.59,619.85 L470.52,619.91 L471.46,619.02 L472.40,618.57 L473.34,618.18 L474.28,617.99 L475.22,617.89 L476.16,617.53 L477.10,617.09 L478.04,616.89 L478.98,616.49 L479.92,615.78 L480.86,615.34 L481.79,615.39 L482.73,614.89 L483.67,614.06 L484.61,614.05 L485.55,613.48 L486.49,613.16" stroke="#111" stroke-width="1.6" fill="none" stroke-linejoin="round" stroke-linecap="round" />
<text x="447.30" y="645.34" font-size="9" text-anchor="middle" fill="#3d3d3d" textLength="29.50" lengthAdjust="spacingAndGlyphs" stroke="#3d3d3d" style="stroke-width:0.35px">Time (sec)</text>
<text x="0" y="2.74" font-size="7.6" text-anchor="middle" fill="#555" textLength="50.00" lengthAdjust="spacingAndGlyphs" transform="translate(381.80 601.45) rotate(-90)">Platelet adhesion</text>
<text x="0" y="2.74" font-size="7.6" text-anchor="middle" fill="#555" textLength="52.00" lengthAdjust="spacingAndGlyphs" transform="translate(390.90 601.25) rotate(-90)">(% area covered)</text>
<line x1="413.20" y1="583.00" x2="419.00" y2="583.00" stroke="#111" stroke-width="1.3" />
<path d="M414.2,581.9 L418,581.9 L416.1,584.3 Z" fill="#111"/>
<text x="420.40" y="584.51" font-size="4.2" text-anchor="start" fill="#111" stroke="#111" textLength="8.10" lengthAdjust="spacingAndGlyphs" >PBS</text>
<line x1="413.20" y1="589.00" x2="419.00" y2="589.00" stroke="#e0503a" stroke-width="0.8" />
<circle cx="416.1" cy="589" r="1.1" fill="#d22f1c"/>
<text x="420.40" y="590.51" font-size="4.2" text-anchor="start" fill="#5a2018" stroke="#5a2018" textLength="13.10" lengthAdjust="spacingAndGlyphs" >OxLDL</text>
<path d="M489.80,612.30 L494.00,612.30 L494.00,616.20 L489.80,616.20" stroke="#111" stroke-width="1.1" fill="none" stroke-linejoin="round" stroke-linecap="round" stroke-linecap="butt"/>
<text x="495.50" y="616.23" font-size="5.5" text-anchor="start" fill="#111" stroke="#111" >p=0.69</text>
<rect x="0.5" y="0.5" width="519" height="656" fill="none" stroke="#000" stroke-width="1.2"/>
<rect x="0" y="656" width="520" height="1" fill="#000"/>
</svg>
</body></html>
